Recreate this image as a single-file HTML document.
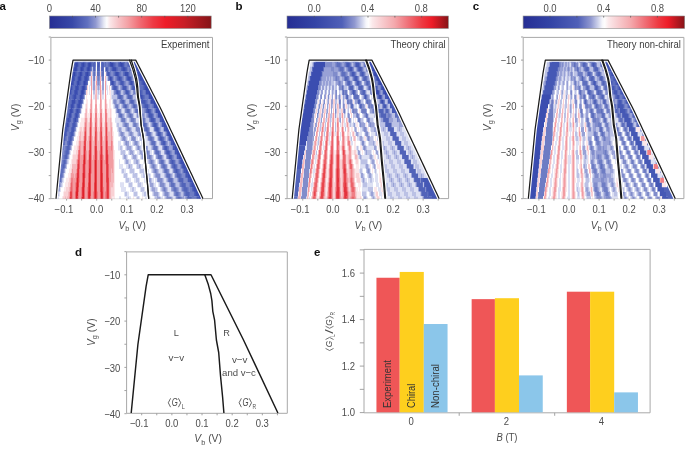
<!DOCTYPE html><html><head><meta charset="utf-8"><style>html,body{margin:0;padding:0;background:#fff;overflow:hidden}svg{display:block;will-change:transform}</style></head><body><svg width="685" height="449" viewBox="0 0 685 449" style="font-family:&quot;Liberation Sans&quot;, sans-serif"><defs><filter id="bl" x="-5%" y="-5%" width="110%" height="110%"><feGaussianBlur stdDeviation="0.7"/></filter><linearGradient id="cbA"><stop offset="0.000" stop-color="#262e94"/><stop offset="0.141" stop-color="#3848a8"/><stop offset="0.236" stop-color="#6070c0"/><stop offset="0.286" stop-color="#9098d0"/><stop offset="0.318" stop-color="#c4c8e6"/><stop offset="0.337" stop-color="#e6e8f4"/><stop offset="0.355" stop-color="#fdfdfe"/><stop offset="0.375" stop-color="#fbe6e8"/><stop offset="0.425" stop-color="#f6c4c8"/><stop offset="0.486" stop-color="#f4a0a4"/><stop offset="0.564" stop-color="#f06870"/><stop offset="0.641" stop-color="#ee3a44"/><stop offset="0.719" stop-color="#ee1c28"/><stop offset="0.835" stop-color="#c81e26"/><stop offset="1.000" stop-color="#861418"/></linearGradient><linearGradient id="cbB"><stop offset="0.000" stop-color="#262e94"/><stop offset="0.173" stop-color="#3444a6"/><stop offset="0.341" stop-color="#5060b8"/><stop offset="0.419" stop-color="#9098d0"/><stop offset="0.465" stop-color="#d0d4ec"/><stop offset="0.490" stop-color="#f6f6fb"/><stop offset="0.505" stop-color="#fefdfd"/><stop offset="0.530" stop-color="#fbe8ea"/><stop offset="0.580" stop-color="#f8d0d3"/><stop offset="0.667" stop-color="#f4a8ac"/><stop offset="0.750" stop-color="#f07078"/><stop offset="0.835" stop-color="#ee3a42"/><stop offset="0.897" stop-color="#ee1c28"/><stop offset="1.000" stop-color="#861418"/></linearGradient></defs><text x="-0.6" y="9.8" font-size="11.5" font-weight="bold" fill="#111">a</text><rect x="49.4" y="16.0" width="161.8" height="12.5" fill="url(#cbA)" stroke="#8c8c8c" stroke-width="0.6"/><line x1="72.5" y1="15.9" x2="72.5" y2="17.6" stroke="#555" stroke-width="0.7"/><line x1="95.5" y1="15.9" x2="95.5" y2="17.6" stroke="#555" stroke-width="0.7"/><line x1="118.6" y1="15.9" x2="118.6" y2="17.6" stroke="#555" stroke-width="0.7"/><line x1="141.7" y1="15.9" x2="141.7" y2="17.6" stroke="#555" stroke-width="0.7"/><line x1="164.8" y1="15.9" x2="164.8" y2="17.6" stroke="#555" stroke-width="0.7"/><line x1="187.8" y1="15.9" x2="187.8" y2="17.6" stroke="#555" stroke-width="0.7"/><text x="49.4" y="11.6" font-size="10.4" text-anchor="middle" fill="#4d4d4d" textLength="5.3" lengthAdjust="spacingAndGlyphs">0</text><text x="95.6" y="11.6" font-size="10.4" text-anchor="middle" fill="#4d4d4d" textLength="10.6" lengthAdjust="spacingAndGlyphs">40</text><text x="141.7" y="11.6" font-size="10.4" text-anchor="middle" fill="#4d4d4d" textLength="10.6" lengthAdjust="spacingAndGlyphs">80</text><text x="188.0" y="11.6" font-size="10.4" text-anchor="middle" fill="#4d4d4d" textLength="15.8" lengthAdjust="spacingAndGlyphs">120</text><path d="M50.9 37.4H212.5V198.6H50.9Z" fill="none" stroke="#a8a8a8" stroke-width="1"/><line x1="48.7" y1="37.00" x2="50.9" y2="37.00" stroke="#999" stroke-width="0.9"/><line x1="48.7" y1="60.10" x2="50.9" y2="60.10" stroke="#999" stroke-width="0.9"/><line x1="48.7" y1="83.20" x2="50.9" y2="83.20" stroke="#999" stroke-width="0.9"/><line x1="48.7" y1="106.30" x2="50.9" y2="106.30" stroke="#999" stroke-width="0.9"/><line x1="48.7" y1="129.40" x2="50.9" y2="129.40" stroke="#999" stroke-width="0.9"/><line x1="48.7" y1="152.50" x2="50.9" y2="152.50" stroke="#999" stroke-width="0.9"/><line x1="48.7" y1="175.60" x2="50.9" y2="175.60" stroke="#999" stroke-width="0.9"/><line x1="48.7" y1="198.70" x2="50.9" y2="198.70" stroke="#999" stroke-width="0.9"/><text x="44.2" y="63.5" font-size="10.4" text-anchor="end" fill="#4d4d4d" textLength="16.1" lengthAdjust="spacingAndGlyphs">&#8722;10</text><text x="44.2" y="109.7" font-size="10.4" text-anchor="end" fill="#4d4d4d" textLength="16.1" lengthAdjust="spacingAndGlyphs">&#8722;20</text><text x="44.2" y="155.9" font-size="10.4" text-anchor="end" fill="#4d4d4d" textLength="16.1" lengthAdjust="spacingAndGlyphs">&#8722;30</text><text x="44.2" y="202.1" font-size="10.4" text-anchor="end" fill="#4d4d4d" textLength="16.1" lengthAdjust="spacingAndGlyphs">&#8722;40</text><line x1="66.60" y1="198.6" x2="66.60" y2="200.6" stroke="#999" stroke-width="0.9"/><line x1="81.65" y1="198.6" x2="81.65" y2="200.6" stroke="#999" stroke-width="0.9"/><line x1="96.70" y1="198.6" x2="96.70" y2="200.6" stroke="#999" stroke-width="0.9"/><line x1="111.75" y1="198.6" x2="111.75" y2="200.6" stroke="#999" stroke-width="0.9"/><line x1="126.80" y1="198.6" x2="126.80" y2="200.6" stroke="#999" stroke-width="0.9"/><line x1="141.85" y1="198.6" x2="141.85" y2="200.6" stroke="#999" stroke-width="0.9"/><line x1="156.90" y1="198.6" x2="156.90" y2="200.6" stroke="#999" stroke-width="0.9"/><line x1="171.95" y1="198.6" x2="171.95" y2="200.6" stroke="#999" stroke-width="0.9"/><line x1="187.00" y1="198.6" x2="187.00" y2="200.6" stroke="#999" stroke-width="0.9"/><line x1="202.05" y1="198.6" x2="202.05" y2="200.6" stroke="#999" stroke-width="0.9"/><text x="64.0" y="213.2" font-size="10.1" text-anchor="middle" fill="#4d4d4d" textLength="18.8" lengthAdjust="spacingAndGlyphs">&#8722;0.1</text><text x="96.7" y="213.2" font-size="10.1" text-anchor="middle" fill="#4d4d4d" textLength="13.2" lengthAdjust="spacingAndGlyphs">0.0</text><text x="126.8" y="213.2" font-size="10.1" text-anchor="middle" fill="#4d4d4d" textLength="13.2" lengthAdjust="spacingAndGlyphs">0.1</text><text x="156.9" y="213.2" font-size="10.1" text-anchor="middle" fill="#4d4d4d" textLength="13.2" lengthAdjust="spacingAndGlyphs">0.2</text><text x="187.0" y="213.2" font-size="10.1" text-anchor="middle" fill="#4d4d4d" textLength="13.2" lengthAdjust="spacingAndGlyphs">0.3</text><text x="118.4" y="228.6" font-size="10.3" fill="#4d4d4d"><tspan font-style="italic">V</tspan><tspan font-size="7.4" dy="2.4">b</tspan><tspan dy="-2.4"> (V)</tspan></text><text transform="translate(18.6 131.2) rotate(-90)" font-size="10.3" fill="#4d4d4d"><tspan font-style="italic">V</tspan><tspan font-size="7.4" dy="2.4">g</tspan><tspan dy="-2.4"> (V)</tspan></text><text x="209.5" y="48.3" font-size="10.0" text-anchor="end" fill="#3d3d3d" textLength="48.6" lengthAdjust="spacingAndGlyphs">Experiment</text><clipPath id="cL0"><path d="M73.04 60.10 L72.20 64.72 L71.36 69.34 L70.61 73.96 L69.96 78.58 L69.30 83.20 L68.65 87.82 L68.00 92.44 L67.35 97.06 L66.69 101.68 L66.04 106.30 L65.39 110.92 L64.74 115.54 L64.08 120.16 L63.43 124.78 L62.78 129.40 L62.32 134.02 L61.87 138.64 L61.42 143.26 L60.96 147.88 L60.51 152.50 L60.06 157.12 L59.61 161.74 L59.16 166.36 L58.71 170.98 L58.25 175.60 L57.80 180.22 L57.35 184.84 L56.90 189.46 L56.45 194.08 L56.01 198.70 L148.71 198.70 L148.32 194.08 L147.94 189.46 L147.56 184.84 L147.15 180.22 L146.69 175.60 L146.24 170.98 L145.78 166.36 L145.33 161.74 L144.94 157.12 L144.58 152.50 L144.22 147.88 L143.86 143.26 L143.49 138.64 L142.75 134.02 L141.91 129.40 L141.09 124.78 L140.67 120.16 L140.25 115.54 L139.82 110.92 L139.40 106.30 L138.58 101.68 L137.66 97.06 L137.20 92.44 L136.81 87.82 L136.19 83.20 L135.39 78.58 L134.13 73.96 L132.83 69.34 L131.19 64.72 L129.54 60.10Z"/></clipPath><clipPath id="cR0"><path d="M131.24 60.10 L132.76 64.72 L134.29 69.34 L135.47 73.96 L136.60 78.58 L137.29 83.20 L137.78 87.82 L138.05 92.44 L138.38 97.06 L139.18 101.68 L139.89 106.30 L140.19 110.92 L140.49 115.54 L140.79 120.16 L141.09 124.78 L141.91 129.40 L142.75 134.02 L143.49 138.64 L143.86 143.26 L144.22 147.88 L144.58 152.50 L144.94 157.12 L145.33 161.74 L145.78 166.36 L146.24 170.98 L146.69 175.60 L147.15 180.22 L147.56 184.84 L147.94 189.46 L148.32 194.08 L148.71 198.70 L203.01 198.70 L200.84 194.08 L198.67 189.46 L196.50 184.84 L194.34 180.22 L192.17 175.60 L190.00 170.98 L187.83 166.36 L185.66 161.74 L183.49 157.12 L181.33 152.50 L179.16 147.88 L176.99 143.26 L174.82 138.64 L172.65 134.02 L170.48 129.40 L168.32 124.78 L166.16 120.16 L164.00 115.54 L161.85 110.92 L159.51 106.30 L157.14 101.68 L154.76 97.06 L152.38 92.44 L150.00 87.82 L147.63 83.20 L145.25 78.58 L142.87 73.96 L140.49 69.34 L138.12 64.72 L135.74 60.10Z"/></clipPath><g clip-path="url(#cL0)"><g filter="url(#bl)" stroke-width="5.0" fill="none"><path stroke="#3547ab" d="M71 60.1h1m5 0h1m6 0h1m5 0h1m17 0h2m8 0h2m7 0h2M70 64.7h1m5 0h1m6 0h1m5 0h1m21 0h2m8 0h1m8 0h2M75 69.3h1m5 0h1m6 0h1M74 74.0h1m5 0h1m6 0h1M79 78.6h1M71 83.2h1m6 0h1m5 0h1M70 87.8h1m12 0h1M69 92.4h1m12 0h1"/><path stroke="#3a4db0" d="M72 60.1h1m5 0h1m4 0h1m1 0h1m5 0h1m15 0h1m2 0h1m6 0h1m2 0h1m5 0h1m2 0h1M75 64.7h1m1 0h1m4 0h1m5 0h1m1 0h1m19 0h1m9 0h1m1 0h1m6 0h1M69 69.3h1m4 0h1m1 0h1m5 0h1m4 0h1m1 0h1m23 0h3m7 0h2m7 0h3M68 74.0h1m4 0h1m7 0h1m4 0h1m29 0h2m7 0h3m7 0h2M67 78.6h1m4 0h2m4 0h1m1 0h1m4 0h2m23 0h1m8 0h1m8 0h2M72 83.2h1m4 0h1m7 0h1m26 0h1m18 0h1M69 87.8h1m1 0h1m4 0h2m4 0h1m1 0h1M68 92.4h1m1 0h1m4 0h2m4 0h1m1 0h1M67 97.1h2m5 0h2m4 0h2M66 101.7h2m4 0h3m4 0h2M65 106.3h2m4 0h2m5 0h2M64 110.9h1m5 0h2m5 0h1M63 115.5h1m5 0h2m5 0h1M62 120.2h1m5 0h1m6 0h1M67 124.8h1"/><path stroke="#5163b9" d="M73 60.1h1m1 0h1m6 0h1m3 0h1m1 0h1m5 0h1m2 0h3m1 0h2m3 0h1m5 0h1m2 0h1m5 0h1m3 0h1m5 0h1M72 64.7h1m1 0h1m3 0h1m6 0h1m1 0h1m3 0h1m1 0h2m2 0h1m1 0h1m2 0h2m5 0h1m4 0h1m3 0h1m9 0h1m4 0h1M73 69.3h1m3 0h1m8 0h1m3 0h1m3 0h1m2 0h2m3 0h1m4 0h1m8 0h1m4 0h1m4 0h1M69 74.0h1m6 0h1m1 0h1m3 0h1m6 0h1m17 0h1m1 0h1m14 0h1m3 0h1M68 78.6h1m8 0h1m3 0h1m27 0h1m7 0h1m3 0h1m14 0h1M67 83.2h1m8 0h1m3 0h1m39 0h1m2 0h1M68 87.8h1m3 0h1m8 0h1m3 0h1m27 0h1m2 0h1m15 0h1m2 0h1M67 92.4h1m3 0h1m8 0h1m3 0h1m31 0h1m1 0h1m9 0h1m6 0h1m1 0h1M66 97.1h1m5 0h1m3 0h1m2 0h1m39 0h2m7 0h3m7 0h2M71 101.7h1m3 0h1m46 0h2m7 0h2M67 106.3h1m2 0h1m9 0h1m44 0h1m8 0h1M66 110.9h1m2 0h1m9 0h1M68 115.5h1m2 0h1M63 120.2h1m6 0h1m2 0h1m2 0h1M62 124.8h1m9 0h1m2 0h1M67 129.4h1m3 0h1M66 134.0h1m3 0h1M62 138.6h1m6 0h1m1 0h1M61 143.3h1m1 0h1m4 0h1m1 0h1M60 147.9h1m1 0h1m4 0h2M59 152.5h2m5 0h2M58 157.1h2m5 0h2M57 161.7h2m5 0h1M63 166.4h1"/><path stroke="#5d6ebe" d="M74 60.1h1m5 0h2m5 0h1m5 0h1m1 0h1m7 0h3m7 0h2m7 0h3M73 64.7h1m5 0h2m5 0h1m5 0h1m8 0h1m3 0h1m2 0h1m6 0h1m8 0h1m2 0h1M71 69.3h2m5 0h2m4 0h2m7 0h1m5 0h1m1 0h1m1 0h1m7 0h1m5 0h1m12 0h1M70 74.0h2m5 0h1m5 0h2m9 0h1m2 0h2m3 0h2m10 0h1m4 0h1m3 0h1m9 0h1M69 78.6h2m4 0h2m5 0h2m4 0h1m23 0h1m13 0h1m4 0h1M68 83.2h2m4 0h2m5 0h2m4 0h1m26 0h1m14 0h1m3 0h1M66 87.8h2m5 0h2m4 0h2m41 0h1m3 0h1M65 92.4h2m5 0h2m4 0h2m39 0h1m5 0h1m12 0h1M65 97.1h1m4 0h2m5 0h2m4 0h1m34 0h1m2 0h1m9 0h1m5 0h1M64 101.7h1m4 0h2m5 0h2m4 0h1m38 0h1m8 0h1m2 0h1m6 0h1M68 106.3h2m4 0h1m1 0h1m47 0h1m1 0h1m6 0h1m1 0h1M68 110.9h1m4 0h1m1 0h1m42 0h1m8 0h2m7 0h2M65 115.5h1m1 0h1m6 0h1m3 0h1m41 0h2m8 0h1m8 0h2M64 120.2h1m1 0h1m10 0h1M65 124.8h1m3 0h1M61 129.4h1m2 0h1m3 0h1m5 0h1M60 134.0h1m2 0h1m5 0h1m3 0h1M65 138.6h1m2 0h1M64 143.3h1m2 0h1M66 147.9h1m2 0h1M61 152.5h1m3 0h1m2 0h1M60 157.1h1m3 0h1M63 161.7h1m1 0h1M57 166.4h1m4 0h1m1 0h1M56 171.0h1m4 0h2M60 175.6h2M59 180.2h2M58 184.8h1M57 189.5h1"/><path stroke="#4558b5" d="M76 60.1h1m2 0h1m9 0h1m2 0h1m18 0h1m4 0h1m13 0h1M71 64.7h1m9 0h1m2 0h1m13 0h1m14 0h1m5 0h1m3 0h1m8 0h1M70 69.3h1m9 0h1m2 0h1m22 0h1m5 0h1m9 0h1m2 0h1m5 0h1M72 74.0h1m2 0h1m3 0h1m5 0h1m2 0h1m19 0h1m6 0h1m2 0h1m15 0h1M71 78.6h1m2 0h1m9 0h1m2 0h1m23 0h1m6 0h1m1 0h1m6 0h1m2 0h1m6 0h1M70 83.2h1m2 0h1m5 0h1m3 0h1m2 0h1m24 0h1m1 0h1m7 0h2m7 0h1m1 0h1M75 87.8h1m2 0h1m35 0h2m7 0h3m7 0h2M74 92.4h1m2 0h1m39 0h1m8 0h2m8 0h1M69 97.1h1m3 0h1m8 0h1M65 101.7h1m2 0h1m9 0h1m2 0h1M64 106.3h1m8 0h1m3 0h1M63 110.9h1m1 0h1m6 0h1m3 0h1m1 0h1M62 115.5h1m1 0h1m10 0h1m1 0h1M67 120.2h1m1 0h1m4 0h1M61 124.8h1m4 0h1m1 0h1m4 0h2M60 129.4h1m4 0h2m5 0h2M64 134.0h2m5 0h2M63 138.6h2m5 0h1M62 143.3h1m6 0h1M61 147.9h1"/><path stroke="#ffffff" d="M96 60.1h1M96 64.7h1m3 0h1M96 69.3h1m7 0h1M104 74.0h1M104 78.6h1M88 83.2h2m11 0h1m2 0h1m2 0h3M88 87.8h1m1 0h1m13 0h1m3 0h1m1 0h1M88 92.4h1m1 0h1m1 0h1m11 0h1m1 0h1m1 0h1M85 97.1h1m1 0h3m2 0h1m6 0h1m4 0h1m2 0h3M84 101.7h2m2 0h2m3 0h2m2 0h3m2 0h2m3 0h2m2 0h1M83 106.3h2m3 0h2m3 0h2m2 0h2m3 0h2m4 0h1m2 0h2M82 110.9h3m3 0h1m4 0h1m4 0h1m4 0h1m8 0h3M80 115.5h4m28 0h4M79 120.2h2m31 0h3M78 124.8h2m33 0h3M77 129.4h2m34 0h4M76 134.0h2m36 0h4M74 138.6h3m37 0h6m8 0h1m9 0h1M73 143.3h3m38 0h4m3 0h2m8 0h1m8 0h1M72 147.9h2m40 0h4m5 0h2m8 0h2m7 0h2M71 152.5h2m42 0h5m6 0h2m7 0h2m8 0h2M70 157.1h2m43 0h7m6 0h3m7 0h2M69 161.7h2m44 0h4m1 0h4m7 0h2m7 0h3M67 166.4h3m45 0h4m4 0h3m7 0h3m7 0h2M66 171.0h3m46 0h6m5 0h3m6 0h4m6 0h3M65 175.6h3m47 0h8m5 0h4m6 0h3m6 0h2M64 180.2h2m49 0h10m6 0h3m6 0h4M63 184.8h2m50 0h5m4 0h4m5 0h4m6 0h4M61 189.5h3m51 0h6m5 0h4m6 0h4m5 0h4M60 194.1h3m52 0h9m5 0h4m5 0h4m6 0h3M59 198.7h3m53 0h4m2 0h5m5 0h2m1 0h2m4 0h2m1 0h2m5 0h1"/><path stroke="#fce8ea" d="M100 60.1h1M100 69.3h1M96 74.0h1m8 0h1M95 83.2h1M101 87.8h1M87 92.4h1m21 0h2M86 97.1h1m3 0h1m15 0h1m3 0h1M86 101.7h2m4 0h1m11 0h1m4 0h2M85 106.3h1m1 0h1m4 0h1m6 0h1m4 0h1m2 0h1m1 0h2M87 110.9h1m1 0h1m2 0h1m1 0h1m2 0h1m1 0h1m2 0h1m1 0h1m2 0h3m1 0h1M84 115.5h1m2 0h3m2 0h3m2 0h3m2 0h3m3 0h2m1 0h1M81 120.2h3m4 0h1m3 0h2m4 0h1m4 0h2M80 124.8h4m9 0h1m4 0h1m4 0h1m8 0h1M79 129.4h1m2 0h1M78 134.0h1m34 0h1M77 138.6h2m34 0h1M76 143.3h2m35 0h1M74 147.9h3M73 152.5h3m38 0h1M72 157.1h1m41 0h1M71 161.7h1m42 0h1M70 166.4h2m42 0h1M69 171.0h2m43 0h1M68 175.6h2m44 0h1M66 180.2h3m45 0h1M65 184.8h3m46 0h1M64 189.5h2m48 0h1M63 194.1h1m50 0h1M62 198.7h1m49 0h3m18 0h1m8 0h1"/><path stroke="#6d7cc4" d="M95 64.7h1m8 0h1m1 0h2m8 0h2m7 0h2M91 69.3h1m16 0h1m1 0h1m7 0h3m6 0h1m1 0h1M93 74.0h1m5 0h1m10 0h1m2 0h1m6 0h1m8 0h1m2 0h1M94 78.6h1m3 0h1m3 0h2m4 0h1m7 0h1m5 0h1m12 0h1M110 83.2h1m4 0h1m3 0h1m4 0h1m9 0h1m3 0h1M86 87.8h1m25 0h1m4 0h1m13 0h1m4 0h1M115 92.4h1m13 0h1m4 0h1M122 97.1h1m4 0h1M120 101.7h1m3 0h1m14 0h1M75 106.3h1m5 0h1m34 0h2m5 0h1m12 0h1M67 110.9h1m6 0h1m42 0h1m1 0h1m6 0h1m2 0h1m5 0h1m2 0h1M66 115.5h1m5 0h2m45 0h1m9 0h1m1 0h1m6 0h1M65 120.2h1m5 0h2m49 0h3m6 0h3m7 0h2M63 124.8h2m5 0h2m4 0h1m48 0h2m7 0h2M62 129.4h2m5 0h2m57 0h1M61 134.0h2m4 0h2M59 138.6h1m1 0h1m4 0h1m5 0h1M60 143.3h1m10 0h1M59 147.9h1m3 0h1m1 0h1M58 152.5h1m3 0h1m1 0h1M63 157.1h1m3 0h1M59 161.7h1m2 0h1M58 166.4h1m2 0h1M60 171.0h1m2 0h1M59 175.6h1m2 0h1M58 180.2h1M57 184.8h1m1 0h1M56 189.5h1m1 0h1M55 194.1h2M54 198.7h2"/><path stroke="#bbc1e5" d="M92 69.3h1M92 74.0h1M89 78.6h1m11 0h1m5 0h1M97 87.8h1m1 0h1m11 0h1m7 0h1m9 0h1m8 0h1M93 92.4h2m3 0h1m3 0h2m9 0h1m7 0h2m8 0h2M112 97.1h5m7 0h2m7 0h3M83 101.7h1m33 0h2m7 0h3m7 0h2M114 106.3h1m4 0h1m1 0h1m7 0h2m7 0h1m1 0h1M121 110.9h1m2 0h1m6 0h1m1 0h1m6 0h1M124 115.5h1m1 0h1m6 0h1m2 0h1M78 120.2h1m41 0h1m5 0h1m2 0h1m9 0h1M77 124.8h1m39 0h2m3 0h1m9 0h1m5 0h1m2 0h1M118 129.4h1m2 0h1m3 0h1m5 0h1m3 0h1m4 0h1M119 134.0h1m4 0h1m3 0h1m4 0h1m3 0h1m5 0h1M121 138.6h1m4 0h1m13 0h1m4 0h1M72 143.3h1m51 0h1m8 0h1m4 0h1m4 0h1M71 147.9h1m48 0h2m4 0h1m4 0h1m4 0h1m3 0h1m4 0h1M121 152.5h4m4 0h1m3 0h1m5 0h1m3 0h1M123 157.1h1m2 0h1m5 0h1m3 0h1m4 0h1m3 0h1M67 161.7h1m57 0h1m2 0h1m5 0h2m2 0h1m5 0h1m2 0h1M66 166.4h1m61 0h1m1 0h2m5 0h2m1 0h1m6 0h1M122 171.0h2m6 0h4m6 0h4M124 175.6h3m6 0h4m6 0h3M62 180.2h1m63 0h3m7 0h3m6 0h3M61 184.8h1m67 0h3m6 0h3m7 0h2M132 189.5h2m7 0h3M58 194.1h1m66 0h2m7 0h3m7 0h2M57 198.7h1m70 0h1m8 0h2m8 0h1"/><path stroke="#808ccb" d="M95 69.3h1m9 0h1m3 0h1m18 0h1M90 74.0h1m10 0h1m4 0h1m4 0h2m8 0h2m7 0h2M93 78.6h1m3 0h1m1 0h1m13 0h1m1 0h1m7 0h1m1 0h1m6 0h1m1 0h1M98 83.2h1m19 0h1m6 0h1m2 0h1m8 0h1M121 87.8h1m5 0h1M85 92.4h1m28 0h1m5 0h1m3 0h1m8 0h1m5 0h1M117 97.1h1m14 0h1m3 0h1M114 101.7h2m13 0h1m4 0h1M115 106.3h1m11 0h1m4 0h1M80 110.9h1m39 0h1m4 0h1m13 0h1M122 115.5h1m5 0h1m3 0h1m4 0h1m3 0h1M121 120.2h1m12 0h1m5 0h1M124 124.8h1m2 0h1m5 0h1m2 0h1m6 0h1M75 129.4h1m51 0h1m1 0h1m6 0h4M121 134.0h2m7 0h2m7 0h3M60 138.6h1m6 0h1m55 0h2m7 0h3m7 0h2M59 143.3h1m5 0h2m59 0h1m8 0h2m8 0h1M58 147.9h1m5 0h1m5 0h1m67 0h1M63 152.5h1M61 157.1h2M60 161.7h2m4 0h1M59 166.4h2m4 0h1M57 171.0h1m1 0h1M56 175.6h1m1 0h1M55 180.2h1m1 0h1m3 0h1M56 184.8h1M55 189.5h1M54 194.1h1m2 0h1M56 198.7h1"/><path stroke="#f9d1d4" d="M91 74.0h1m8 0h1M87 87.8h1m7 0h1m13 0h1M86 92.4h1m8 0h1m5 0h1M101 97.1h1M90 101.7h1m15 0h1M86 106.3h1M85 110.9h1m24 0h1M107 115.5h1m2 0h1M84 120.2h1m2 0h1m1 0h1m4 0h1m2 0h1m1 0h1m2 0h1m4 0h3m1 0h1M87 124.8h2m3 0h1m1 0h1m2 0h1m1 0h1m2 0h1m1 0h1m3 0h2M80 129.4h2m1 0h1m3 0h2m3 0h2m3 0h3m3 0h2m3 0h2m2 0h1M79 134.0h1m1 0h3m3 0h2m3 0h2m4 0h1m4 0h2m7 0h1M81 138.6h2m4 0h1m5 0h1m4 0h1m4 0h1M78 143.3h1M77 147.9h1m35 0h1M76 152.5h2m35 0h1M73 157.1h4m36 0h1M72 161.7h4M71 171.0h1M70 175.6h1M69 180.2h1M68 184.8h2m43 0h1M66 189.5h3m42 0h3M64 194.1h4m43 0h3M63 198.7h2m1 0h1m44 0h1"/><path stroke="#98a1d6" d="M95 74.0h1M114 78.6h1m9 0h1m8 0h1M93 83.2h2m2 0h1m1 0h1m2 0h2m12 0h2m8 0h2m7 0h2M93 87.8h2m3 0h1m3 0h2m14 0h1m1 0h1m7 0h1m1 0h1m6 0h1M123 92.4h1m6 0h1M84 97.1h1m38 0h1m2 0h1M113 101.7h1m2 0h1m2 0h1m5 0h1m9 0h1m2 0h1M118 106.3h1m3 0h1m5 0h1m2 0h1m5 0h1m3 0h1M116 110.9h1m13 0h1m3 0h1M79 115.5h1m38 0h1m4 0h1m3 0h1m14 0h1M125 120.2h1m4 0h1m4 0h1M123 124.8h1m4 0h1m8 0h1m4 0h1M119 129.4h2m5 0h1m3 0h1M74 134.0h1m45 0h1m2 0h1m5 0h1m2 0h1m5 0h1m3 0h1M73 138.6h1m48 0h1m2 0h1m5 0h1m3 0h1m5 0h1m2 0h1M125 143.3h1m1 0h2m5 0h1m2 0h1m6 0h1M127 147.9h4m6 0h1m1 0h1m6 0h1M69 152.5h1m60 0h3m7 0h3M68 157.1h1m55 0h2m7 0h3m6 0h3M126 161.7h2m8 0h2m7 0h2M129 166.4h1m9 0h1M58 171.0h1m5 0h1M57 175.6h1m5 0h1M56 180.2h1M55 184.8h1m4 0h1M54 189.5h1m4 0h1"/><path stroke="#dde0f3" d="M90 78.6h1m1 0h1m2 0h1m10 0h1M90 83.2h1m1 0h1m13 0h1M89 87.8h1m2 0h1m13 0h2M89 92.4h1m7 0h1m1 0h1m7 0h1m3 0h2M93 97.1h2m2 0h2m3 0h2m7 0h1M112 101.7h1M82 106.3h1m30 0h1m6 0h1m18 0h1M81 110.9h1m33 0h1m6 0h2m8 0h1m8 0h1M116 115.5h2m7 0h1m8 0h2M115 120.2h5m7 0h2m7 0h3M116 124.8h1m2 0h3m7 0h3m7 0h2M76 129.4h1m40 0h1m4 0h3m7 0h3m6 0h3M75 134.0h1m42 0h1m6 0h3m6 0h3m7 0h1M120 138.6h1m6 0h1m1 0h2m5 0h2m1 0h1M118 143.3h3m2 0h1m5 0h2m1 0h1m6 0h1m1 0h2M118 147.9h2m2 0h1m2 0h1m6 0h1m2 0h1m5 0h1m2 0h1M70 152.5h1m49 0h1m4 0h1m2 0h1m5 0h1m2 0h2m5 0h1M69 157.1h1m52 0h1m4 0h1m3 0h1m5 0h1m2 0h1m5 0h1M68 161.7h1m50 0h1m4 0h1m4 0h2m2 0h1m5 0h1m3 0h1M119 166.4h4m3 0h2m4 0h1m3 0h1m4 0h2m2 0h2M65 171.0h1m55 0h1m2 0h2m3 0h1m4 0h1m4 0h1m4 0h1m3 0h1M64 175.6h1m58 0h1m3 0h1m4 0h1m4 0h1m3 0h2m3 0h1M63 180.2h1m61 0h1m3 0h2m3 0h2m3 0h1m4 0h1m3 0h2M62 184.8h1m57 0h4m4 0h1m3 0h1m4 0h1m3 0h2m4 0h1M60 189.5h1m60 0h5m4 0h2m2 0h2m4 0h1m3 0h1m4 0h1M59 194.1h1m64 0h1m2 0h2m4 0h1m3 0h1m4 0h2m2 0h2M58 198.7h1m60 0h2m5 0h2m1 0h2m5 0h1m2 0h1m5 0h2m1 0h2"/><path stroke="#f29ca1" d="M91 78.6h1M91 83.2h1m4 0h1m3 0h1m4 0h1M91 87.8h1m8 0h1m4 0h1M91 92.4h1m8 0h1m4 0h1M91 97.1h1m8 0h1m4 0h1M91 101.7h1m8 0h1m4 0h1M91 106.3h1m3 0h2m3 0h1m4 0h1M90 110.9h2m3 0h2m3 0h2m4 0h1M85 120.2h2M86 124.8h1M84 129.4h1m1 0h1m2 0h1m17 0h1m3 0h1M86 134.0h1m2 0h1m17 0h1m3 0h1M86 138.6h1m7 0h1m7 0h1m8 0h1M79 143.3h2m2 0h1m10 0h1m7 0h1m9 0h1M80 147.9h1m27 0h3m1 0h1M80 152.5h1m5 0h1m1 0h1m8 0h1m1 0h1m8 0h5M80 157.1h3m3 0h1m1 0h1m4 0h1m3 0h1m1 0h1m3 0h1m5 0h4M80 161.7h3m3 0h2m4 0h2m3 0h3m3 0h2m4 0h4M80 166.4h2m4 0h2m4 0h2m3 0h3m3 0h3m3 0h4M72 171.0h1m3 0h1m3 0h2m4 0h2m4 0h2m3 0h3m3 0h3m3 0h2m1 0h1M71 175.6h3m1 0h1m4 0h2m4 0h2m3 0h3m3 0h3m3 0h3m3 0h2M73 180.2h3m4 0h2m3 0h3m3 0h3m3 0h3m3 0h3m3 0h2M70 184.8h1m2 0h2m4 0h3m3 0h3m3 0h3m3 0h3m3 0h3m3 0h1M73 189.5h2m4 0h2m4 0h2m4 0h3m3 0h3m4 0h2m3 0h1M69 194.1h1m3 0h2m4 0h2m4 0h2m4 0h2m5 0h2m4 0h1m4 0h1M73 198.7h2m4 0h2m4 0h2m4 0h2m5 0h2m4 0h1m4 0h1"/><path stroke="#f5b7bc" d="M96 78.6h1m3 0h1m4 0h1M96 87.8h1M96 92.4h1M95 97.1h2M95 101.7h2m4 0h1M90 106.3h1m10 0h1m4 0h1M86 110.9h1M85 115.5h2M110 120.2h1M84 124.8h1m4 0h1m17 0h1m2 0h2M94 129.4h1m7 0h1m7 0h1M80 134.0h1m13 0h1m2 0h1m1 0h1m2 0h1m5 0h3M79 138.6h2m2 0h1m4 0h1m3 0h1m4 0h1m1 0h1m4 0h1m3 0h3m1 0h1M81 143.3h2m3 0h3m3 0h2m3 0h3m3 0h2m3 0h3M78 147.9h1m2 0h2m3 0h3m3 0h2m3 0h3m3 0h2M81 152.5h2m4 0h1m4 0h2m4 0h1m4 0h2M77 157.1h1m9 0h1m4 0h1m5 0h1m5 0h1M76 161.7h1m36 0h1M72 166.4h5m36 0h1M73 171.0h3m35 0h1m1 0h1M74 175.6h1m36 0h3M70 180.2h1m40 0h3M110 184.8h3M69 189.5h1m40 0h1M68 194.1h1m41 0h1M65 198.7h1m1 0h2m41 0h1"/><path stroke="#f07f86" d="M105 110.9h1M90 115.5h2m3 0h2m3 0h2m3 0h2M91 120.2h1m3 0h2m3 0h2m3 0h2M85 124.8h1m5 0h1m4 0h1m3 0h1m4 0h1M91 129.4h1m13 0h1M84 134.0h1m6 0h1m13 0h1M89 138.6h1m1 0h1m13 0h1m1 0h1M91 143.3h1m13 0h1m5 0h1M79 147.9h1m3 0h1m7 0h1m2 0h1m7 0h1m2 0h1m5 0h1M78 152.5h1m4 0h1m7 0h1m2 0h1m7 0h1m2 0h1M91 157.1h1m2 0h1m10 0h1m2 0h1M77 161.7h1m10 0h1m2 0h1m13 0h1m2 0h1M82 166.4h1m2 0h1m2 0h1m2 0h1M79 171.0h1m2 0h1m2 0h1m2 0h1m2 0h1M76 175.6h1m2 0h1m5 0h1M71 180.2h2m6 0h1M72 184.8h1m2 0h1M70 189.5h1m1 0h1m2 0h1m5 0h1m5 0h1m15 0h1M72 194.1h1m5 0h1m2 0h1m5 0h1m5 0h1m3 0h1m5 0h1m1 0h1M69 198.7h1m2 0h1m5 0h1m8 0h1m5 0h1m3 0h1m5 0h1m1 0h1"/><path stroke="#ec6269" d="M90 120.2h1M90 124.8h1m4 0h1m5 0h1m4 0h1M85 129.4h1m9 0h2m3 0h2M96 134.0h1m3 0h1M84 138.6h1m11 0h1m3 0h1M89 143.3h1m6 0h1m3 0h1m6 0h1M89 147.9h1m10 0h1m6 0h1M79 152.5h1m5 0h1m14 0h1M78 157.1h2m3 0h1m1 0h1m16 0h1M79 161.7h1m5 0h1m8 0h1m7 0h1M77 166.4h1m1 0h1m14 0h1m7 0h1m5 0h1M94 171.0h1m7 0h1m5 0h1M82 175.6h1m5 0h1m5 0h1m13 0h1M76 180.2h1m5 0h1m5 0h1m5 0h1M71 184.8h1m34 0h1M71 189.5h1m6 0h1m5 0h1m21 0h1M75 194.1h1m8 0h1m15 0h1m5 0h1M75 198.7h1m5 0h1m2 0h1m5 0h1m9 0h1m5 0h1"/><path stroke="#e8444c" d="M90 129.4h1m15 0h1M85 134.0h1m4 0h1m4 0h1m5 0h1m4 0h1M85 138.6h1m4 0h1m4 0h1m5 0h1m4 0h1M84 143.3h2m9 0h1m5 0h1M85 147.9h1m10 0h1M89 152.5h1m6 0h1m10 0h1M96 157.1h1m3 0h1M78 161.7h1m4 0h1m12 0h1m3 0h1M96 166.4h1m3 0h1m5 0h1M77 171.0h1m18 0h1m3 0h1m5 0h1M90 175.6h1m5 0h1m3 0h1m1 0h1m3 0h1M78 180.2h1m5 0h1m5 0h1m5 0h1m3 0h1m1 0h1m3 0h1m1 0h1M76 184.8h1m1 0h1m3 0h1m1 0h1m3 0h1m1 0h1m3 0h1m1 0h1m3 0h1m1 0h1m5 0h1M88 189.5h1m1 0h1m3 0h1m1 0h1m3 0h1m1 0h1m5 0h1M70 194.1h2m18 0h1m3 0h1m1 0h1m11 0h1M71 198.7h1m22 0h1m1 0h1m11 0h1"/><path stroke="#e4333c" d="M90 143.3h1m15 0h1M84 147.9h1m5 0h1m4 0h1m5 0h1m4 0h1M84 152.5h1m5 0h1m4 0h1m5 0h1m4 0h1M89 157.1h2m4 0h1m5 0h1m4 0h2M89 161.7h2m15 0h2M78 166.4h1m4 0h2m4 0h2m16 0h1M78 171.0h1m4 0h2m5 0h1m16 0h1M77 175.6h2m5 0h1m22 0h1M107 180.2h1M107 184.8h1M76 189.5h1m5 0h1m24 0h1M82 194.1h1m5 0h1m13 0h1m4 0h1M70 198.7h1m6 0h1m10 0h1m13 0h1m4 0h1"/><path stroke="#df222c" d="M84 157.1h1M84 161.7h1m10 0h1m5 0h1M95 166.4h1m5 0h1M89 171.0h1m5 0h1m5 0h1M83 175.6h1m5 0h1m5 0h1m5 0h1M77 180.2h1m5 0h1m5 0h1m5 0h1m5 0h1M77 184.8h1m5 0h1m5 0h1m5 0h1m5 0h1M77 189.5h1m5 0h1m5 0h1m5 0h1m5 0h1M76 194.1h2m5 0h1m5 0h1m5 0h1m5 0h1M76 198.7h1m5 0h2m5 0h1m5 0h1m5 0h1"/></g></g><g clip-path="url(#cR0)"><g filter="url(#bl)" stroke-width="5.0" fill="none"><path stroke="#3a4db0" d="M129 60.1h9M131 64.7h10M135 69.3h8M138 74.0h7M140 78.6h8M143 83.2h1m1 0h5M136 87.8h1m8 0h1m2 0h5M138 92.4h2m6 0h3m1 0h5M141 97.1h1m7 0h2m1 0h5M151 101.7h3m1 0h5M154 106.3h2m1 0h5M148 110.9h1m7 0h8M158 115.5h9M162 120.2h5M164 124.8h5M166 129.4h4M168 134.0h4M170 138.6h5M173 143.3h4M175 147.9h4M177 152.5h4M179 157.1h4M181 161.7h4M183 166.4h4M186 171.0h3M188 175.6h3M190 180.2h3M192 184.8h3M194 189.5h3M196 194.1h4M199 198.7h3"/><path stroke="#4558b5" d="M130 64.7h1M132 69.3h3M133 74.0h1m2 0h2M134 78.6h1m4 0h1M135 83.2h2m5 0h1M135 87.8h1m1 0h2m5 0h1M137 92.4h1m2 0h1M140 97.1h1m1 0h1M142 101.7h3M145 106.3h3M147 110.9h1m1 0h1M149 115.5h3M151 120.2h3m6 0h2m5 0h2M154 124.8h2m6 0h2m5 0h2M156 129.4h2m6 0h2m4 0h3M158 134.0h2m7 0h1m4 0h3M160 138.6h2m7 0h1m5 0h2M163 143.3h2m6 0h2m4 0h2M165 147.9h2m6 0h2m4 0h3M167 152.5h2m6 0h2m4 0h3M169 157.1h2m6 0h2m4 0h3M172 161.7h1m7 0h1m4 0h3M174 166.4h1m7 0h1m4 0h3M176 171.0h1m7 0h2m3 0h3M186 175.6h2m3 0h4M188 180.2h2m3 0h4M191 184.8h1m3 0h4M193 189.5h1m3 0h4M195 194.1h1m4 0h3M197 198.7h2m3 0h4"/><path stroke="#5163b9" d="M134 74.0h2M135 78.6h4M137 83.2h1m3 0h1M139 87.8h1m3 0h1M136 92.4h1m4 0h1M139 97.1h1m3 0h1M141 101.7h1m3 0h1M144 106.3h1M138 110.9h1m7 0h1m3 0h1M139 115.5h2m11 0h1M142 120.2h1m11 0h1M144 124.8h1m8 0h1m2 0h1M146 129.4h1m8 0h1m2 0h1M160 134.0h1M162 138.6h1M162 143.3h1M164 147.9h1M166 152.5h1m2 0h1M171 157.1h1M171 161.7h1m1 0h1M173 166.4h1m1 0h1M175 171.0h1m1 0h1M177 175.6h3M179 180.2h4M182 184.8h3m5 0h1M184 189.5h3m5 0h1M186 194.1h3m5 0h1M188 198.7h3"/><path stroke="#5d6ebe" d="M138 83.2h3M140 87.8h3M142 92.4h1m2 0h1M138 97.1h1m5 0h1m3 0h1M146 101.7h1m3 0h1M137 106.3h1m5 0h1m4 0h1m4 0h1M139 110.9h1m15 0h1M138 115.5h1m2 0h1m6 0h1M140 120.2h2m1 0h1m6 0h1M143 124.8h1m1 0h1M145 129.4h1m1 0h1M147 134.0h3m7 0h1M150 138.6h2m7 0h1m3 0h1M152 143.3h3m6 0h1m3 0h1M154 147.9h3m10 0h1M156 152.5h3M158 157.1h3m7 0h1M161 161.7h2m7 0h1m3 0h1m4 0h1M163 166.4h2m7 0h1m3 0h1m4 0h1M165 171.0h2m7 0h1m3 0h1m4 0h1M167 175.6h3m10 0h1m4 0h1M169 180.2h3M171 184.8h3m7 0h1m3 0h1M174 189.5h2m7 0h1m3 0h1M176 194.1h2m7 0h1m3 0h1M178 198.7h2m7 0h1m3 0h1m4 0h1"/><path stroke="#3547ab" d="M144 83.2h1M146 87.8h2M149 92.4h1M151 97.1h1M154 101.7h1M156 106.3h1"/><path stroke="#6d7cc4" d="M143 92.4h2M136 97.1h2m7 0h3M139 101.7h2m6 0h1M138 106.3h1m3 0h1m6 0h1m2 0h1M140 110.9h1m4 0h1m5 0h1M142 115.5h1m10 0h1m3 0h1M144 120.2h1m10 0h1M142 124.8h1m3 0h1m5 0h1m4 0h1M144 129.4h1m3 0h1m5 0h1m4 0h1M150 134.0h1m10 0h1m4 0h1M141 138.6h1m7 0h1m2 0h1m15 0h1M141 143.3h3m7 0h1M144 147.9h2m7 0h1m9 0h1m4 0h1M146 152.5h2m7 0h1m9 0h1m4 0h1M149 157.1h1m11 0h1m5 0h1m4 0h1M151 161.7h1m8 0h1m2 0h1M153 166.4h1m8 0h1m2 0h1M155 171.0h1m8 0h1m2 0h1m11 0h1M166 175.6h1m9 0h1m4 0h1M168 180.2h1m3 0h1m5 0h1m4 0h1m3 0h1M174 184.8h1m5 0h1m8 0h1M164 189.5h1m8 0h1m2 0h1m5 0h1m5 0h1m1 0h2M175 194.1h1m2 0h1m5 0h1m5 0h4M177 198.7h1m2 0h1m11 0h4"/><path stroke="#808ccb" d="M137 101.7h2m9 0h2M139 106.3h3m8 0h2M141 110.9h1m2 0h1m7 0h1m1 0h1M143 115.5h1m3 0h1m8 0h1M139 120.2h1m9 0h1m9 0h1M141 124.8h1m19 0h1M140 134.0h1m5 0h1m9 0h1m5 0h1M142 138.6h1m5 0h1m4 0h1m4 0h1m5 0h1M144 143.3h1m10 0h1m10 0h1m3 0h1M143 147.9h1m2 0h1m10 0h1m14 0h1M145 152.5h1m2 0h1m10 0h1m11 0h1m2 0h1M147 157.1h2m1 0h1m6 0h1m15 0h1m2 0h1M150 161.7h1m1 0h1m6 0h1m9 0h1m5 0h1m2 0h1M152 166.4h1m1 0h1m6 0h1m4 0h1m4 0h1m5 0h1m2 0h1M154 171.0h1m1 0h1m11 0h1m4 0h1m6 0h1m1 0h1M156 175.6h4m10 0h1m4 0h1m6 0h3M158 180.2h4m22 0h3M160 184.8h4m6 0h1m15 0h3M163 189.5h1m1 0h1m6 0h1m4 0h1m11 0h1M165 194.1h3m6 0h1m4 0h1M167 198.7h4m5 0h1m4 0h1m4 0h1"/><path stroke="#98a1d6" d="M142 110.9h2m9 0h1M144 115.5h1m1 0h1m7 0h2M138 120.2h1m6 0h1m10 0h3M147 124.8h1m3 0h1m6 0h1m1 0h1M143 129.4h1m5 0h1m10 0h1m2 0h1M151 134.0h1m13 0h1M165 138.6h1m1 0h1M150 143.3h1m9 0h1m6 0h1m1 0h1M142 147.9h1m4 0h1m4 0h1m9 0h1m6 0h3M144 152.5h1m4 0h1m4 0h1m5 0h1m3 0h1m7 0h2M151 157.1h1m4 0h1m5 0h1m3 0h1m7 0h2M149 161.7h1m3 0h1m10 0h1m11 0h2M143 166.4h2m6 0h1m3 0h1m22 0h2M144 171.0h3m6 0h1m3 0h1m5 0h1m17 0h1M146 175.6h3m6 0h1m9 0h1m5 0h1M148 180.2h3m6 0h1m4 0h1m4 0h1m5 0h1m3 0h1M150 184.8h3m11 0h1m4 0h1m5 0h1m3 0h1M152 189.5h3m7 0h1m3 0h1m4 0h1m6 0h1m2 0h1M154 194.1h4m6 0h1m3 0h1m11 0h1m2 0h1M157 198.7h3m6 0h1m4 0h1m10 0h2m1 0h1"/><path stroke="#bbc1e5" d="M145 115.5h1M146 120.2h3M140 124.8h1m7 0h1m1 0h1m8 0h1M139 129.4h1m2 0h1m10 0h1m7 0h2M141 134.0h1m3 0h1m6 0h1m2 0h1m7 0h2M143 138.6h1m3 0h1m6 0h1m2 0h1m8 0h1M145 143.3h1m3 0h1m6 0h1m2 0h1m8 0h1M151 147.9h1m6 0h1M143 152.5h1M146 157.1h1m5 0h1m10 0h1M143 161.7h1m4 0h1m5 0h1m3 0h1m6 0h1m2 0h1M145 166.4h1m4 0h1m5 0h1m3 0h1m6 0h1m2 0h1M147 171.0h1m4 0h1m5 0h1m3 0h1m6 0h1m2 0h1M144 175.6h2m3 0h1m4 0h1m5 0h1m3 0h1m7 0h1m1 0h1M147 180.2h1m3 0h1m11 0h1m2 0h1m7 0h3M149 184.8h1m3 0h1m5 0h1m5 0h1m10 0h3M145 189.5h1m5 0h1m3 0h2m4 0h1m5 0h1m11 0h2M146 194.1h2m5 0h1m4 0h1m4 0h1m5 0h1m3 0h1m7 0h2M146 198.7h4m5 0h2m3 0h1m4 0h1m6 0h1m2 0h1m8 0h1"/><path stroke="#dde0f3" d="M139 124.8h1m9 0h1M140 129.4h2m8 0h3M142 134.0h3m8 0h2M144 138.6h3m8 0h2M146 143.3h3m8 0h2M148 147.9h3m8 0h3M142 152.5h1m7 0h2m1 0h1m7 0h3M142 157.1h1m1 0h2m7 0h1m1 0h1m8 0h2M144 161.7h1m2 0h1m7 0h1m1 0h1m8 0h2M146 166.4h1m2 0h1m7 0h1m1 0h1m8 0h2M148 171.0h1m2 0h1m7 0h3m8 0h2M150 175.6h1m2 0h1m7 0h3m9 0h1M145 180.2h2m5 0h2m1 0h2m7 0h2M148 184.8h1m5 0h2m2 0h1m7 0h3M146 189.5h1m3 0h1m6 0h1m2 0h1m7 0h3M148 194.1h1m3 0h1m6 0h1m2 0h1m7 0h3M150 198.7h1m3 0h1m6 0h2m1 0h1m8 0h2"/><path stroke="#ffffff" d="M152 152.5h1M143 157.1h1m10 0h1M145 161.7h2m9 0h1M147 166.4h2m9 0h1M149 171.0h2M151 175.6h2M154 180.2h1M145 184.8h3m8 0h2M147 189.5h3m8 0h2M149 194.1h3m8 0h2M151 198.7h3m9 0h1"/></g></g><path d="M56.01 198.70 L56.45 194.08 L56.90 189.46 L57.35 184.84 L57.80 180.22 L58.25 175.60 L58.71 170.98 L59.16 166.36 L59.61 161.74 L60.06 157.12 L60.51 152.50 L60.96 147.88 L61.42 143.26 L61.87 138.64 L62.32 134.02 L62.78 129.40 L63.43 124.78 L64.08 120.16 L64.74 115.54 L65.39 110.92 L66.04 106.30 L66.69 101.68 L67.35 97.06 L68.00 92.44 L68.65 87.82 L69.30 83.20 L69.96 78.58 L70.61 73.96 L71.36 69.34 L72.20 64.72 L73.04 60.10 L129.54 60.10 L131.19 64.72 L132.83 69.34 L134.13 73.96 L135.39 78.58 L136.19 83.20 L136.81 87.82 L137.20 92.44 L137.66 97.06 L138.58 101.68 L139.40 106.30 L139.82 110.92 L140.25 115.54 L140.67 120.16 L141.09 124.78 L141.91 129.40 L142.75 134.02 L143.49 138.64 L143.86 143.26 L144.22 147.88 L144.58 152.50 L144.94 157.12 L145.33 161.74 L145.78 166.36 L146.24 170.98 L146.69 175.60 L147.15 180.22 L147.56 184.84 L147.94 189.46 L148.32 194.08 L148.71 198.70" fill="none" stroke="#fff" stroke-width="3.5" stroke-linejoin="round"/><path d="M148.71 198.70 L148.32 194.08 L147.94 189.46 L147.56 184.84 L147.15 180.22 L146.69 175.60 L146.24 170.98 L145.78 166.36 L145.33 161.74 L144.94 157.12 L144.58 152.50 L144.22 147.88 L143.86 143.26 L143.49 138.64 L142.75 134.02 L141.91 129.40 L141.09 124.78 L140.79 120.16 L140.49 115.54 L140.19 110.92 L139.89 106.30 L139.18 101.68 L138.38 97.06 L138.05 92.44 L137.78 87.82 L137.29 83.20 L136.60 78.58 L135.47 73.96 L134.29 69.34 L132.76 64.72 L131.24 60.10 L135.74 60.10 L138.12 64.72 L140.49 69.34 L142.87 73.96 L145.25 78.58 L147.63 83.20 L150.00 87.82 L152.38 92.44 L154.76 97.06 L157.14 101.68 L159.51 106.30 L161.85 110.92 L164.00 115.54 L166.16 120.16 L168.32 124.78 L170.48 129.40 L172.65 134.02 L174.82 138.64 L176.99 143.26 L179.16 147.88 L181.33 152.50 L183.49 157.12 L185.66 161.74 L187.83 166.36 L190.00 170.98 L192.17 175.60 L194.34 180.22 L196.50 184.84 L198.67 189.46 L200.84 194.08 L203.01 198.70" fill="none" stroke="#fff" stroke-width="3.5" stroke-linejoin="round"/><path d="M56.01 198.70 L56.45 194.08 L56.90 189.46 L57.35 184.84 L57.80 180.22 L58.25 175.60 L58.71 170.98 L59.16 166.36 L59.61 161.74 L60.06 157.12 L60.51 152.50 L60.96 147.88 L61.42 143.26 L61.87 138.64 L62.32 134.02 L62.78 129.40 L63.43 124.78 L64.08 120.16 L64.74 115.54 L65.39 110.92 L66.04 106.30 L66.69 101.68 L67.35 97.06 L68.00 92.44 L68.65 87.82 L69.30 83.20 L69.96 78.58 L70.61 73.96 L71.36 69.34 L72.20 64.72 L73.04 60.10 L129.54 60.10 L131.19 64.72 L132.83 69.34 L134.13 73.96 L135.39 78.58 L136.19 83.20 L136.81 87.82 L137.20 92.44 L137.66 97.06 L138.58 101.68 L139.40 106.30 L139.82 110.92 L140.25 115.54 L140.67 120.16 L141.09 124.78 L141.91 129.40 L142.75 134.02 L143.49 138.64 L143.86 143.26 L144.22 147.88 L144.58 152.50 L144.94 157.12 L145.33 161.74 L145.78 166.36 L146.24 170.98 L146.69 175.60 L147.15 180.22 L147.56 184.84 L147.94 189.46 L148.32 194.08 L148.71 198.70" fill="none" stroke="#1a1a1a" stroke-width="1.25" stroke-linejoin="round"/><path d="M148.71 198.70 L148.32 194.08 L147.94 189.46 L147.56 184.84 L147.15 180.22 L146.69 175.60 L146.24 170.98 L145.78 166.36 L145.33 161.74 L144.94 157.12 L144.58 152.50 L144.22 147.88 L143.86 143.26 L143.49 138.64 L142.75 134.02 L141.91 129.40 L141.09 124.78 L140.79 120.16 L140.49 115.54 L140.19 110.92 L139.89 106.30 L139.18 101.68 L138.38 97.06 L138.05 92.44 L137.78 87.82 L137.29 83.20 L136.60 78.58 L135.47 73.96 L134.29 69.34 L132.76 64.72 L131.24 60.10 L135.74 60.10 L138.12 64.72 L140.49 69.34 L142.87 73.96 L145.25 78.58 L147.63 83.20 L150.00 87.82 L152.38 92.44 L154.76 97.06 L157.14 101.68 L159.51 106.30 L161.85 110.92 L164.00 115.54 L166.16 120.16 L168.32 124.78 L170.48 129.40 L172.65 134.02 L174.82 138.64 L176.99 143.26 L179.16 147.88 L181.33 152.50 L183.49 157.12 L185.66 161.74 L187.83 166.36 L190.00 170.98 L192.17 175.60 L194.34 180.22 L196.50 184.84 L198.67 189.46 L200.84 194.08 L203.01 198.70" fill="none" stroke="#1a1a1a" stroke-width="1.25" stroke-linejoin="round"/><path d="M129.04 60.10H131.74" stroke="#1a1a1a" stroke-width="1.25"/><text x="235.5" y="9.8" font-size="11.5" font-weight="bold" fill="#111">b</text><rect x="287.0" y="16.0" width="161.4" height="12.5" fill="url(#cbB)" stroke="#8c8c8c" stroke-width="0.6"/><line x1="314.3" y1="15.9" x2="314.3" y2="17.6" stroke="#555" stroke-width="0.7"/><line x1="341.2" y1="15.9" x2="341.2" y2="17.6" stroke="#555" stroke-width="0.7"/><line x1="368.0" y1="15.9" x2="368.0" y2="17.6" stroke="#555" stroke-width="0.7"/><line x1="394.9" y1="15.9" x2="394.9" y2="17.6" stroke="#555" stroke-width="0.7"/><line x1="421.7" y1="15.9" x2="421.7" y2="17.6" stroke="#555" stroke-width="0.7"/><text x="314.3" y="11.6" font-size="10.4" text-anchor="middle" fill="#4d4d4d" textLength="13.2" lengthAdjust="spacingAndGlyphs">0.0</text><text x="367.6" y="11.6" font-size="10.4" text-anchor="middle" fill="#4d4d4d" textLength="13.2" lengthAdjust="spacingAndGlyphs">0.4</text><text x="421.3" y="11.6" font-size="10.4" text-anchor="middle" fill="#4d4d4d" textLength="13.2" lengthAdjust="spacingAndGlyphs">0.8</text><path d="M287.1 37.4H448.6V198.6H287.1Z" fill="none" stroke="#a8a8a8" stroke-width="1"/><line x1="284.9" y1="37.00" x2="287.1" y2="37.00" stroke="#999" stroke-width="0.9"/><line x1="284.9" y1="60.10" x2="287.1" y2="60.10" stroke="#999" stroke-width="0.9"/><line x1="284.9" y1="83.20" x2="287.1" y2="83.20" stroke="#999" stroke-width="0.9"/><line x1="284.9" y1="106.30" x2="287.1" y2="106.30" stroke="#999" stroke-width="0.9"/><line x1="284.9" y1="129.40" x2="287.1" y2="129.40" stroke="#999" stroke-width="0.9"/><line x1="284.9" y1="152.50" x2="287.1" y2="152.50" stroke="#999" stroke-width="0.9"/><line x1="284.9" y1="175.60" x2="287.1" y2="175.60" stroke="#999" stroke-width="0.9"/><line x1="284.9" y1="198.70" x2="287.1" y2="198.70" stroke="#999" stroke-width="0.9"/><text x="280.4" y="63.5" font-size="10.4" text-anchor="end" fill="#4d4d4d" textLength="16.1" lengthAdjust="spacingAndGlyphs">&#8722;10</text><text x="280.4" y="109.7" font-size="10.4" text-anchor="end" fill="#4d4d4d" textLength="16.1" lengthAdjust="spacingAndGlyphs">&#8722;20</text><text x="280.4" y="155.9" font-size="10.4" text-anchor="end" fill="#4d4d4d" textLength="16.1" lengthAdjust="spacingAndGlyphs">&#8722;30</text><text x="280.4" y="202.1" font-size="10.4" text-anchor="end" fill="#4d4d4d" textLength="16.1" lengthAdjust="spacingAndGlyphs">&#8722;40</text><line x1="302.75" y1="198.6" x2="302.75" y2="200.6" stroke="#999" stroke-width="0.9"/><line x1="317.80" y1="198.6" x2="317.80" y2="200.6" stroke="#999" stroke-width="0.9"/><line x1="332.85" y1="198.6" x2="332.85" y2="200.6" stroke="#999" stroke-width="0.9"/><line x1="347.90" y1="198.6" x2="347.90" y2="200.6" stroke="#999" stroke-width="0.9"/><line x1="362.95" y1="198.6" x2="362.95" y2="200.6" stroke="#999" stroke-width="0.9"/><line x1="378.00" y1="198.6" x2="378.00" y2="200.6" stroke="#999" stroke-width="0.9"/><line x1="393.05" y1="198.6" x2="393.05" y2="200.6" stroke="#999" stroke-width="0.9"/><line x1="408.10" y1="198.6" x2="408.10" y2="200.6" stroke="#999" stroke-width="0.9"/><line x1="423.15" y1="198.6" x2="423.15" y2="200.6" stroke="#999" stroke-width="0.9"/><line x1="438.20" y1="198.6" x2="438.20" y2="200.6" stroke="#999" stroke-width="0.9"/><text x="300.1" y="213.2" font-size="10.1" text-anchor="middle" fill="#4d4d4d" textLength="18.8" lengthAdjust="spacingAndGlyphs">&#8722;0.1</text><text x="332.9" y="213.2" font-size="10.1" text-anchor="middle" fill="#4d4d4d" textLength="13.2" lengthAdjust="spacingAndGlyphs">0.0</text><text x="362.9" y="213.2" font-size="10.1" text-anchor="middle" fill="#4d4d4d" textLength="13.2" lengthAdjust="spacingAndGlyphs">0.1</text><text x="393.1" y="213.2" font-size="10.1" text-anchor="middle" fill="#4d4d4d" textLength="13.2" lengthAdjust="spacingAndGlyphs">0.2</text><text x="423.1" y="213.2" font-size="10.1" text-anchor="middle" fill="#4d4d4d" textLength="13.2" lengthAdjust="spacingAndGlyphs">0.3</text><text x="354.6" y="228.6" font-size="10.3" fill="#4d4d4d"><tspan font-style="italic">V</tspan><tspan font-size="7.4" dy="2.4">b</tspan><tspan dy="-2.4"> (V)</tspan></text><text transform="translate(254.8 131.2) rotate(-90)" font-size="10.3" fill="#4d4d4d"><tspan font-style="italic">V</tspan><tspan font-size="7.4" dy="2.4">g</tspan><tspan dy="-2.4"> (V)</tspan></text><text x="445.6" y="48.3" font-size="10.0" text-anchor="end" fill="#3d3d3d" textLength="55.2" lengthAdjust="spacingAndGlyphs">Theory chiral</text><clipPath id="cL1"><path d="M309.19 60.10 L308.35 64.72 L307.51 69.34 L306.76 73.96 L306.11 78.58 L305.45 83.20 L304.80 87.82 L304.15 92.44 L303.50 97.06 L302.84 101.68 L302.19 106.30 L301.54 110.92 L300.89 115.54 L300.23 120.16 L299.58 124.78 L298.93 129.40 L298.47 134.02 L298.02 138.64 L297.57 143.26 L297.11 147.88 L296.66 152.50 L296.21 157.12 L295.76 161.74 L295.31 166.36 L294.86 170.98 L294.40 175.60 L293.95 180.22 L293.50 184.84 L293.05 189.46 L292.60 194.08 L292.16 198.70 L384.86 198.70 L384.47 194.08 L384.09 189.46 L383.71 184.84 L383.30 180.22 L382.84 175.60 L382.39 170.98 L381.93 166.36 L381.48 161.74 L381.09 157.12 L380.73 152.50 L380.37 147.88 L380.01 143.26 L379.64 138.64 L378.90 134.02 L378.06 129.40 L377.24 124.78 L376.82 120.16 L376.40 115.54 L375.97 110.92 L375.55 106.30 L374.73 101.68 L373.81 97.06 L373.35 92.44 L372.96 87.82 L372.34 83.20 L371.54 78.58 L370.28 73.96 L368.98 69.34 L367.34 64.72 L365.69 60.10Z"/></clipPath><clipPath id="cR1"><path d="M366.49 60.10 L368.14 64.72 L369.78 69.34 L371.08 73.96 L372.34 78.58 L373.14 83.20 L373.76 87.82 L374.15 92.44 L374.61 97.06 L375.53 101.68 L376.35 106.30 L376.77 110.92 L377.20 115.54 L377.62 120.16 L378.04 124.78 L378.86 129.40 L379.70 134.02 L380.44 138.64 L380.81 143.26 L381.17 147.88 L381.53 152.50 L381.89 157.12 L382.28 161.74 L382.73 166.36 L383.19 170.98 L383.64 175.60 L384.10 180.22 L384.51 184.84 L384.89 189.46 L385.27 194.08 L385.66 198.70 L439.16 198.70 L436.99 194.08 L434.82 189.46 L432.65 184.84 L430.49 180.22 L428.32 175.60 L426.15 170.98 L423.98 166.36 L421.81 161.74 L419.64 157.12 L417.48 152.50 L415.31 147.88 L413.14 143.26 L410.97 138.64 L408.80 134.02 L406.63 129.40 L404.47 124.78 L402.31 120.16 L400.15 115.54 L398.00 110.92 L395.66 106.30 L393.29 101.68 L390.91 97.06 L388.53 92.44 L386.15 87.82 L383.78 83.20 L381.40 78.58 L379.02 73.96 L376.64 69.34 L374.27 64.72 L371.89 60.10Z"/></clipPath><g clip-path="url(#cL1)"><g filter="url(#bl)" stroke-width="5.0" fill="none"><path stroke="#dde0f3" d="M307 60.1h6M306 64.7h6M305 69.3h5M304 74.0h4M304 78.6h3m53 0h1M303 83.2h2m29 0h1m8 0h2m8 0h1m8 0h2m8 0h1M304 87.8h1m16 0h1m2 0h1m2 0h2m2 0h1m2 0h1m3 0h1m8 0h1m7 0h1m8 0h2m8 0h1M302 92.4h2m16 0h1m3 0h1m6 0h1m2 0h1m5 0h2m17 0h1m7 0h3M327 97.1h1m1 0h1m1 0h1m5 0h1m4 0h1m8 0h1m9 0h1m9 0h1M317 101.7h1m20 0h1m3 0h1m1 0h1m1 0h1m7 0h1m8 0h1M316 106.3h1m3 0h1m1 0h1m1 0h1m3 0h1m7 0h1m5 0h1m4 0h1m1 0h1m4 0h3m1 0h1m6 0h1m1 0h1M315 110.9h1m1 0h1m1 0h1m19 0h2m6 0h1m3 0h1m8 0h1m8 0h1m7 0h1M314 115.5h1m12 0h1m8 0h1m8 0h1m16 0h1m6 0h5m4 0h1M320 120.2h1m4 0h1m5 0h1m3 0h1m8 0h1m6 0h1m1 0h1m9 0h1m9 0h1M321 124.8h1m18 0h1m3 0h2m3 0h1m1 0h2m2 0h1m9 0h1M313 129.4h1m5 0h1m4 0h1m5 0h1m29 0h2m5 0h1m2 0h1m9 0h1M329 134.0h2m4 0h1m4 0h1m9 0h1m4 0h1m3 0h3m2 0h1m4 0h1m1 0h4m3 0h1M319 138.6h1m4 0h1m4 0h1m10 0h1m9 0h1m6 0h2m4 0h1m2 0h1m6 0h1m6 0h1M306 143.3h1m6 0h1m3 0h1m5 0h1m5 0h1m21 0h2m7 0h1m4 0h1m2 0h1m6 0h1m3 0h1m2 0h1M305 147.9h2m16 0h1m32 0h1m1 0h1m3 0h1m4 0h7m7 0h2M304 152.5h1m17 0h1m34 0h1m2 0h1m3 0h1m6 0h1m3 0h1m2 0h1M303 157.1h1m1 0h1m9 0h2m41 0h1m3 0h7m4 0h1m3 0h1m1 0h1M315 161.7h1m44 0h1m6 0h1m2 0h1m8 0h2M304 166.4h1m9 0h1m45 0h5m4 0h1m2 0h1M309 171.0h1m3 0h2m44 0h1m2 0h1m7 0h1m3 0h1m1 0h1M303 175.6h1m9 0h1m46 0h1m3 0h1m2 0h1m4 0h1m2 0h3M308 180.2h1m3 0h1m48 0h1m3 0h2m1 0h2m2 0h2m1 0h3m6 0h1M299 184.8h1m2 0h1m8 0h2m49 0h1m4 0h6m3 0h3m6 0h1M307 189.5h1m3 0h1m50 0h6m10 0h3M301 194.1h1m8 0h1m55 0h1m2 0h1m4 0h1m4 0h3M306 198.7h1m2 0h1m57 0h1m3 0h1m3 0h1m5 0h1"/><path stroke="#bbc1e5" d="M313 60.1h1m45 0h1M312 64.7h1m39 0h1m8 0h2M310 69.3h2m33 0h1m8 0h2m8 0h2M308 74.0h3m27 0h2m8 0h1m8 0h2m7 0h2M307 78.6h2m17 0h1m2 0h1m1 0h2m7 0h2m8 0h2m7 0h1m1 0h1m7 0h2M305 83.2h3m14 0h1m2 0h1m2 0h1m2 0h3m1 0h1m16 0h1m1 0h1m16 0h1m1 0h1M302 87.8h2m1 0h1m19 0h1m4 0h1m4 0h2m7 0h3m7 0h1m1 0h2m8 0h1m6 0h1M304 92.4h2m13 0h1m6 0h1m1 0h1m4 0h1m5 0h1m7 0h1m1 0h1m7 0h1m8 0h1M301 97.1h1m1 0h2m13 0h1m19 0h1m1 0h1m3 0h1m4 0h2m8 0h1m2 0h1m6 0h1M302 101.7h1m16 0h1m3 0h1m3 0h1m7 0h2m15 0h1m8 0h2m2 0h1m5 0h1m2 0h1M318 106.3h1m13 0h1m15 0h1m27 0h2M323 110.9h1m2 0h1m9 0h1m8 0h1m2 0h1m8 0h1m17 0h1M318 115.5h1m2 0h1m8 0h2m7 0h2m3 0h1m2 0h1m5 0h3m3 0h1m3 0h1m4 0h1m8 0h1M317 120.2h1m8 0h1m3 0h1m8 0h1m8 0h1m8 0h1m3 0h2m3 0h1m3 0h3m3 0h1M313 124.8h1m6 0h1m4 0h1m4 0h1m4 0h1m14 0h1m2 0h1m5 0h1m8 0h1m5 0h1m3 0h1M320 129.4h1m4 0h1m9 0h1m9 0h1m8 0h1m1 0h1m5 0h1m8 0h3m2 0h1M313 134.0h1m5 0h1m4 0h1m33 0h1m9 0h1m6 0h1M318 138.6h1m32 0h1m7 0h1m2 0h1m7 0h3m4 0h1m1 0h1M318 143.3h1m42 0h1m2 0h1m4 0h4m1 0h1m5 0h2M312 147.9h1m4 0h1m39 0h1m8 0h1m9 0h1M316 152.5h1m48 0h1m1 0h4M359 157.1h1m1 0h1m7 0h1m2 0h1m5 0h1M302 161.7h1m7 0h1m50 0h6m4 0h1m2 0h1M365 166.4h1m2 0h1m4 0h1m1 0h1M360 171.0h2m4 0h1m8 0h1M363 175.6h1m4 0h1m2 0h1M362 180.2h1m1 0h1m5 0h2M363 184.8h4M368 189.5h5M362 194.1h4m4 0h1m2 0h1M363 198.7h1m2 0h1m5 0h1m1 0h1"/><path stroke="#98a1d6" d="M314 60.1h1m25 0h2m7 0h2m7 0h1m1 0h1M332 64.7h3m7 0h2m7 0h1m1 0h1m9 0h1M324 69.3h7m3 0h4m6 0h1m1 0h1m9 0h1m6 0h1M323 74.0h10m4 0h1m2 0h1m6 0h1m1 0h1m6 0h1m2 0h1m5 0h1m2 0h1M309 78.6h1m12 0h4m1 0h2m1 0h1m2 0h2m4 0h1m2 0h2m5 0h1m2 0h1m15 0h1m2 0h1M321 83.2h1m1 0h2m1 0h2m1 0h2m5 0h2m3 0h2m2 0h1m15 0h1m2 0h1m5 0h1m3 0h1M306 87.8h1m13 0h1m1 0h2m2 0h1m2 0h1m2 0h2m14 0h1m14 0h1m3 0h1M306 92.4h1m14 0h2m2 0h1m3 0h1m2 0h1m2 0h1m14 0h1m5 0h1m18 0h1M302 97.1h1m2 0h1m14 0h1m3 0h2m6 0h1m2 0h1m7 0h1m1 0h1m2 0h1m4 0h1m9 0h1m4 0h1m3 0h1M301 101.7h1m1 0h1m24 0h1m2 0h2m10 0h1m11 0h2m18 0h1M300 106.3h2m25 0h1m3 0h1m3 0h1m3 0h2m3 0h1m5 0h1m2 0h1m10 0h1m8 0h1M322 110.9h1m4 0h1m3 0h1m11 0h1m22 0h1m3 0h2M322 115.5h1m3 0h1m8 0h1m13 0h1m14 0h1m9 0h1M316 120.2h1m4 0h1m18 0h1m9 0h1m9 0h1M315 124.8h2m37 0h1m6 0h4m4 0h1m1 0h3m5 0h1M314 129.4h2m39 0h1m7 0h1m2 0h1m7 0h2M314 134.0h1m41 0h2m7 0h1m10 0h2M312 138.6h2m46 0h2m5 0h1m1 0h1m8 0h1M312 143.3h1m60 0h1M363 147.9h1m1 0h1m8 0h2M311 152.5h1m46 0h2m6 0h1m9 0h2M360 157.1h1m9 0h2M372 161.7h2M366 166.4h2m6 0h1M367 171.0h1m1 0h1M300 175.6h1m60 0h2m6 0h2M363 180.2h1M371 194.1h2M297 198.7h1m66 0h2m7 0h1"/><path stroke="#5163b9" d="M315 60.1h1m10 0h1m17 0h1m8 0h1m2 0h1m6 0h3M346 64.7h1m2 0h1m16 0h2M349 69.3h1m8 0h1m2 0h1m7 0h1M311 74.0h1m42 0h1m6 0h1m1 0h1m7 0h2M320 78.6h1m24 0h2m7 0h1m9 0h2M348 83.2h2m17 0h1M350 87.8h3m6 0h3m7 0h1M354 92.4h1m8 0h2M347 97.1h1M305 101.7h1m52 0h2M304 106.3h1m55 0h1M298 120.2h1m2 0h1M298 124.8h2M297 147.9h1M295 171.0h6M295 175.6h5M294 180.2h6M293 184.8h6M293 189.5h5M293 194.1h5M292 198.7h1"/><path stroke="#3a4db0" d="M316 60.1h10m28 0h1M314 64.7h11M313 69.3h10M312 74.0h9M311 78.6h9M309 83.2h10M308 87.8h10M307 92.4h10M307 97.1h9M306 101.7h9M305 106.3h9M304 110.9h9M303 115.5h9M302 120.2h9M301 124.8h9M299 129.4h10M297 134.0h2m1 0h8M296 138.6h2m2 0h7M295 143.3h2m2 0h7M295 161.7h1M293 166.4h2M292 171.0h3M292 175.6h2M291 180.2h2M291 184.8h1"/><path stroke="#808ccb" d="M327 60.1h7m5 0h1m2 0h1m5 0h1m2 0h1m9 0h1m5 0h1M313 64.7h1m11 0h7m3 0h1m5 0h1m2 0h1m9 0h1m5 0h1M331 69.3h3m4 0h1m8 0h1m5 0h1m12 0h1M322 74.0h1m10 0h4m9 0h1m22 0h1M321 78.6h1m13 0h1m1 0h2m19 0h1m3 0h1m4 0h1m4 0h1M308 83.2h1m10 0h2m17 0h1m1 0h1m5 0h1m4 0h1m3 0h1m9 0h1M307 87.8h1m10 0h2m19 0h3m1 0h1m9 0h1m18 0h1M317 92.4h2m17 0h1m5 0h1m1 0h1m6 0h1m8 0h1m4 0h1m4 0h1M316 97.1h2m3 0h1m6 0h1m7 0h1m2 0h1m27 0h1M300 101.7h1m3 0h1m10 0h2m3 0h1m3 0h1m15 0h1m8 0h1m7 0h1m2 0h1m9 0h1m5 0h1M302 106.3h1m12 0h1m3 0h1m3 0h1m19 0h1m15 0h1m2 0h2m4 0h1m1 0h1M299 110.9h1m14 0h1m3 0h1m16 0h1m16 0h1m1 0h3m4 0h1m10 0h1M313 115.5h1m3 0h1m30 0h1m7 0h1m1 0h1m6 0h1m10 0h1M312 120.2h2m35 0h1m17 0h1m1 0h1m7 0h2M311 124.8h2m47 0h1m9 0h1M310 129.4h3m51 0h2M309 134.0h4m53 0h2M307 138.6h5m56 0h1M307 143.3h5m50 0h2M307 147.9h5m52 0h1M306 152.5h5M306 157.1h5M305 161.7h5M305 166.4h5M304 171.0h5m59 0h1M304 175.6h5M303 180.2h5M303 184.8h5M298 189.5h1m3 0h5M302 194.1h5M301 198.7h5"/><path stroke="#6d7cc4" d="M334 60.1h1m3 0h1m13 0h1m4 0h1M336 64.7h1m3 0h1m4 0h1m4 0h1m13 0h1m4 0h1M339 69.3h1m3 0h1m13 0h1m4 0h1m4 0h1M341 74.0h1m3 0h1m4 0h1m4 0h1m8 0h1M336 78.6h1m7 0h1m3 0h1m4 0h1M339 83.2h1m10 0h1m9 0h1m8 0h1M358 87.8h1m9 0h1m2 0h1M345 92.4h2m8 0h1m5 0h1m11 0h2M358 97.1h1m14 0h3M339 101.7h1m7 0h2m1 0h2m14 0h1m1 0h2M303 106.3h1m10 0h1m54 0h1m1 0h2M300 110.9h1m1 0h1m10 0h1m30 0h1m8 0h1m8 0h4m7 0h2M298 115.5h1m2 0h1m10 0h1m44 0h1m9 0h1m7 0h1M311 120.2h1m46 0h2m8 0h1M310 124.8h1M309 129.4h1M308 134.0h1"/><path stroke="#5d6ebe" d="M335 60.1h3m5 0h1m3 0h1m14 0h1m3 0h1M337 64.7h3m15 0h1m3 0h1m5 0h1m2 0h1M312 69.3h1m10 0h1m16 0h3m5 0h1m3 0h1m15 0h1m1 0h1M342 74.0h3m6 0h1m8 0h1m9 0h1M347 78.6h1m9 0h1m5 0h1m2 0h1m6 0h1M347 83.2h1m8 0h1m2 0h1m6 0h1m1 0h1M342 87.8h1m6 0h1m12 0h1m7 0h1M343 92.4h1m8 0h1m9 0h1m8 0h2M346 97.1h1m7 0h4m6 0h1m1 0h1M367 101.7h1M351 106.3h2m8 0h1M301 110.9h1m1 0h1M299 115.5h2m1 0h1m63 0h1M299 120.2h2M301 166.4h1M293 198.7h4"/><path stroke="#4558b5" d="M345 60.1h2m8 0h1M347 64.7h2m7 0h3M350 69.3h2m7 0h2M321 74.0h1m30 0h2m8 0h1M310 78.6h1m44 0h2M357 83.2h2M353 92.4h1M306 97.1h1m58 0h1M297 124.8h1m2 0h1M296 129.4h3M296 134.0h1m2 0h1M298 138.6h2M297 143.3h2M295 147.9h2m1 0h7M294 152.5h10M294 157.1h9M293 161.7h2m1 0h6M295 166.4h6M294 175.6h1M293 180.2h1M292 184.8h1M291 189.5h2M290 194.1h3M290 198.7h2"/><path stroke="#ffffff" d="M337 87.8h1M323 92.4h1m3 0h1m2 0h1m6 0h2m9 0h1m9 0h1M319 97.1h1m2 0h2m9 0h1m18 0h1m7 0h1m9 0h1M321 101.7h1m3 0h1m15 0h1m22 0h1m7 0h2M326 106.3h1m14 0h1m15 0h1m16 0h2M330 110.9h1m1 0h1m1 0h1m11 0h1m2 0h1m8 0h1m8 0h2m7 0h1M316 115.5h1m8 0h1m20 0h1m3 0h1m1 0h1m7 0h2M315 120.2h1m6 0h1m18 0h1m3 0h1m6 0h1m1 0h1m1 0h1m7 0h2m8 0h2M326 124.8h1m4 0h1m2 0h1m4 0h1m18 0h1m8 0h1m7 0h1m1 0h1M329 129.4h1m4 0h1m5 0h1m3 0h1m1 0h1m3 0h1m2 0h1m3 0h1m1 0h1m9 0h1m7 0h1m1 0h1M315 134.0h1m2 0h1m1 0h1m4 0h1m13 0h1m5 0h2m4 0h1m10 0h2m6 0h1m8 0h1M314 138.6h1m8 0h1m6 0h1m3 0h2m5 0h1m10 0h1m3 0h1m17 0h1m1 0h1m4 0h1M324 143.3h1m9 0h2m4 0h1m5 0h1m6 0h1m2 0h4m6 0h2m10 0h1M316 147.9h1m1 0h1m3 0h1m5 0h2m4 0h2m10 0h1m5 0h2m5 0h1m17 0h1m2 0h1M317 152.5h1m5 0h1m4 0h1m11 0h1m20 0h1m1 0h1m8 0h1m1 0h1m7 0h1M311 157.1h1m9 0h2m5 0h1m23 0h2m22 0h1m3 0h1m2 0h1M314 161.7h1m6 0h1m6 0h1m24 0h2m4 0h1m8 0h2m5 0h1m2 0h1m2 0h1M315 166.4h1m5 0h1m32 0h2m3 0h1m11 0h1m4 0h1m3 0h2M301 171.0h1m18 0h1m42 0h3m5 0h1m1 0h1m3 0h2m1 0h3M312 175.6h1m7 0h1m44 0h2m6 0h2m3 0h1m2 0h3M311 180.2h1m1 0h1m5 0h1m35 0h1m11 0h1m6 0h1m3 0h1m4 0h1m1 0h1M319 184.8h1m36 0h2m3 0h1m11 0h3m3 0h1m4 0h1M310 189.5h1m47 0h1m1 0h2m11 0h1m3 0h1m8 0h1M309 194.1h1m1 0h1m6 0h1m42 0h1m5 0h2m9 0h1M310 198.7h1m51 0h1m5 0h3m9 0h1m1 0h1"/><path stroke="#fce8ea" d="M326 97.1h1m3 0h1m3 0h1m6 0h1M318 101.7h1m3 0h1m3 0h1m2 0h2m6 0h1m7 0h1m7 0h1M317 106.3h1m12 0h1m3 0h1m10 0h1m20 0h1M321 110.9h1m6 0h1m30 0h1M323 115.5h1m10 0h1m3 0h1m4 0h1M314 120.2h1m19 0h1m1 0h1m18 0h1M314 124.8h1m2 0h1m1 0h1m4 0h1m4 0h1m6 0h1m4 0h1m1 0h1m12 0h2m8 0h1m9 0h1M316 129.4h1m19 0h1m2 0h1m9 0h1m1 0h2m5 0h1m9 0h1m9 0h1M323 134.0h1m10 0h1m6 0h1m7 0h1m4 0h1m25 0h1M317 138.6h1m21 0h1m5 0h2m17 0h2m9 0h1M322 143.3h1m5 0h1m12 0h1m3 0h1m8 0h2m20 0h2M340 147.9h1m4 0h1m1 0h1m6 0h2m4 0h2m16 0h2M315 152.5h1m13 0h1m4 0h2m5 0h1m4 0h2m4 0h2m2 0h1m5 0h1m10 0h1m5 0h3M334 157.1h1m5 0h2m12 0h1m19 0h2m5 0h2M316 161.7h1m5 0h1m4 0h1m6 0h1m20 0h1m2 0h1m17 0h2m4 0h2M313 166.4h1m6 0h1m6 0h2m5 0h1m12 0h1m8 0h3m11 0h1m6 0h3m2 0h2M312 171.0h1m8 0h1m5 0h1m6 0h1m20 0h4m13 0h1m6 0h1m3 0h1M314 175.6h1m4 0h1m7 0h1m6 0h1m20 0h1m3 0h1m19 0h2m3 0h1M320 180.2h1m5 0h2m6 0h1m21 0h1m3 0h1m18 0h1m1 0h2M310 184.8h1m7 0h1m7 0h1m28 0h1m2 0h3m19 0h1M312 189.5h1m5 0h2m6 0h1m29 0h2m1 0h1m14 0h3m4 0h1m3 0h1M298 194.1h1m18 0h1m8 0h1m30 0h4m14 0h1m6 0h1M308 198.7h1m8 0h2m38 0h3m1 0h1m14 0h1m2 0h1m3 0h1"/><path stroke="#f9d1d4" d="M333 101.7h2M321 106.3h1m3 0h1m7 0h1m4 0h1m7 0h1M316 110.9h1m3 0h1m3 0h2m11 0h2m2 0h2m7 0h1M315 115.5h1m3 0h2m11 0h1m4 0h1m3 0h1m9 0h1M318 120.2h1m8 0h1m1 0h1m13 0h1m3 0h1M346 124.8h1m1 0h1M318 129.4h1m2 0h1m4 0h1m4 0h1m9 0h1m5 0h1M336 134.0h1m7 0h1m2 0h2m3 0h1M325 138.6h1m2 0h1m20 0h1m3 0h1m1 0h1M316 143.3h1m2 0h1m10 0h1m19 0h1M313 147.9h1m10 0h1m16 0h1m9 0h1M305 152.5h1m6 0h1m8 0h1m5 0h1m20 0h1m2 0h1m2 0h2M314 157.1h1m2 0h1m5 0h1m3 0h1m1 0h1m5 0h1m10 0h2m3 0h1m5 0h1M304 161.7h1m15 0h1m14 0h1m4 0h2m4 0h2m4 0h1m3 0h2M310 166.4h1m11 0h1m10 0h1m1 0h1m4 0h2m6 0h1m4 0h1M303 171.0h1m11 0h1m3 0h1m6 0h1m1 0h1m4 0h1m6 0h2m5 0h2m5 0h1m29 0h1M311 175.6h1m9 0h1m4 0h1m1 0h1m4 0h1m6 0h2m6 0h1m5 0h1m1 0h3M300 180.2h1m1 0h1m15 0h1m14 0h1m7 0h1m12 0h1m2 0h3m20 0h1M313 184.8h1m6 0h1m6 0h1m5 0h2m6 0h1m6 0h2m31 0h3M301 189.5h1m7 0h1m7 0h1m7 0h1m1 0h1m5 0h2m6 0h1m7 0h1M307 194.1h1m11 0h1m5 0h1m7 0h2m6 0h1m14 0h1m19 0h2m5 0h1m2 0h1M300 198.7h1m10 0h1m4 0h1m8 0h2m6 0h2m21 0h1m3 0h1m16 0h2m5 0h1"/><path stroke="#f5b7bc" d="M329 106.3h1m7 0h1M329 110.9h1m3 0h1M324 115.5h1m3 0h2M319 120.2h1m3 0h2m7 0h1m5 0h1m3 0h1m3 0h1M322 124.8h1m19 0h1M323 129.4h1m19 0h1m4 0h1M317 134.0h1m10 0h1m2 0h1m21 0h1M315 138.6h1m4 0h1m1 0h1m10 0h1m2 0h1m7 0h1m2 0h1m6 0h1M314 143.3h1m18 0h1m2 0h1m2 0h1m4 0h1m2 0h1M315 147.9h1m5 0h1m5 0h1m2 0h1m2 0h1m2 0h1m2 0h1m8 0h1M318 152.5h1m14 0h1m5 0h1m5 0h1M304 157.1h1m28 0h1m8 0h1m5 0h1m6 0h2M303 161.7h1m9 0h1m15 0h1m3 0h1m14 0h1M302 166.4h2m8 0h1m3 0h1m9 0h1m19 0h1M302 171.0h1m19 0h1m12 0h1m6 0h1m6 0h1m3 0h1M301 175.6h2m6 0h1m25 0h1m6 0h1m4 0h1m1 0h1m3 0h1M301 180.2h1m8 0h1m3 0h1m6 0h1m3 0h1m2 0h1m6 0h1m4 0h1m1 0h1m5 0h2M300 184.8h2m6 0h1m8 0h1m7 0h1m9 0h1m4 0h1m1 0h1m11 0h1M299 189.5h2m19 0h1m19 0h1m1 0h1m5 0h1m1 0h1m4 0h1m26 0h3M299 194.1h2m7 0h1m3 0h1m3 0h1m10 0h1m14 0h1m6 0h2m4 0h1m28 0h2M298 198.7h2m7 0h1m11 0h1m4 0h1m16 0h2m6 0h1m35 0h2"/><path stroke="#f29ca1" d="M333 115.5h1m8 0h1M328 120.2h1m4 0h1m3 0h1M318 124.8h1m4 0h1m3 0h2m3 0h2m4 0h1m8 0h1M317 129.4h1m10 0h1m4 0h1m3 0h2M316 134.0h1m4 0h2m3 0h1m6 0h1m4 0h1M316 138.6h1m14 0h1m10 0h1m5 0h1M315 143.3h1m9 0h1m1 0h1m14 0h1M314 147.9h1m4 0h1m24 0h1m5 0h1M313 152.5h2m9 0h1m5 0h1m5 0h1m5 0h1m6 0h2M312 157.1h2m6 0h1m18 0h1m9 0h2M311 161.7h1m5 0h1m5 0h1m2 0h1m12 0h1m2 0h1m8 0h1M319 166.4h1m9 0h1m9 0h1m2 0h1m6 0h1m2 0h1M311 171.0h1m34 0h1m3 0h1m1 0h1M310 175.6h1m4 0h1m2 0h1m6 0h1m24 0h1m1 0h1M332 180.2h1m14 0h1m5 0h1M309 184.8h1m18 0h1m3 0h1m14 0h1m2 0h1M308 189.5h1m4 0h1m10 0h1m7 0h1m2 0h1M320 194.1h1m3 0h1m7 0h1m2 0h1m4 0h1m2 0h1m4 0h1m2 0h1M312 198.7h1m14 0h1m4 0h1m2 0h1m4 0h1m7 0h1m1 0h1m4 0h1"/><path stroke="#f07f86" d="M337 124.8h1M322 129.4h1m4 0h1m4 0h1m9 0h1M327 134.0h1m9 0h1m4 0h2M321 138.6h1m4 0h2m10 0h1m4 0h1M320 143.3h2m9 0h1m11 0h1m4 0h2M320 147.9h1m4 0h1m12 0h1m3 0h1m6 0h1M320 152.5h1m5 0h1M318 157.1h1m5 0h1m1 0h1m3 0h1m5 0h1m8 0h1M312 161.7h1m6 0h1m16 0h1m8 0h1m3 0h1M311 166.4h1m11 0h1m8 0h1m3 0h1M310 171.0h1m5 0h1m1 0h1m6 0h1m3 0h1m2 0h1m6 0h1m11 0h1M322 175.6h1m6 0h1m2 0h1m6 0h1m3 0h1m2 0h1m4 0h1M309 180.2h1m5 0h1m1 0h1m21 0h1m3 0h1m2 0h1m3 0h1m1 0h1M314 184.8h1m6 0h1m2 0h1m14 0h1m13 0h1M316 189.5h1m11 0h1m14 0h1m3 0h1m3 0h1m2 0h1M313 194.1h1m14 0h1m23 0h3M315 198.7h1m7 0h1m19 0h1m7 0h1m2 0h1"/><path stroke="#ec6269" d="M332 134.0h1M332 138.6h1m4 0h1M326 143.3h1m5 0h1m4 0h2M326 147.9h1m4 0h2m4 0h1m5 0h1M319 152.5h1m5 0h1m5 0h2m4 0h2m5 0h1M319 157.1h1m5 0h1m6 0h1m10 0h2M318 161.7h1m5 0h2m4 0h1m1 0h1m10 0h2m5 0h1M317 166.4h2m6 0h1m17 0h1m1 0h1m4 0h2M317 171.0h1m5 0h1m12 0h1m6 0h1M316 175.6h2m18 0h1M316 180.2h1m5 0h1m1 0h1m4 0h1m6 0h1m14 0h1M315 184.8h2m19 0h1m6 0h1m2 0h1m4 0h2M314 189.5h2m5 0h1m9 0h1m4 0h1m2 0h1m12 0h2M315 194.1h1m7 0h1m7 0h1m7 0h1m7 0h1M313 198.7h2m5 0h1m7 0h1m2 0h1m7 0h1m7 0h1m4 0h2"/><path stroke="#e8444c" d="M343 152.5h1M331 157.1h1m5 0h2M331 161.7h1m5 0h2M324 166.4h1m5 0h2m5 0h2m5 0h1M324 171.0h1m5 0h2m6 0h1m6 0h1M323 175.6h2m5 0h2m6 0h1m5 0h2M323 180.2h1m7 0h1m12 0h2M322 184.8h2m5 0h1m1 0h1m6 0h1m5 0h1M322 189.5h2m5 0h1m16 0h1M314 194.1h1m6 0h2m6 0h1m6 0h1m7 0h1M321 198.7h2m13 0h1m7 0h1m1 0h1"/><path stroke="#e4333c" d="M337 171.0h1m6 0h1M337 175.6h1M330 180.2h1m6 0h2M330 184.8h1m6 0h1m7 0h1M330 189.5h1m6 0h2m5 0h2M330 194.1h1m6 0h2m6 0h2M329 198.7h2m6 0h2m6 0h1"/></g></g><g clip-path="url(#cR1)"><g filter="url(#bl)" stroke-width="5.0" fill="none"><path stroke="#3a4db0" d="M364 60.1h10M370 64.7h3M372 69.3h1m1 0h1M369 74.0h1m4 0h1m2 0h1M371 78.6h1m7 0h1M371 83.2h1m7 0h1M374 87.8h1m7 0h1M376 92.4h1m1 0h1m5 0h1m1 0h1M372 97.1h1m6 0h2m6 0h2M374 101.7h1m7 0h1m7 0h1"/><path stroke="#4558b5" d="M366 64.7h4m3 0h4M367 69.3h1m3 0h1m3 0h4M378 74.0h4M376 78.6h1m3 0h4M374 83.2h1m3 0h1m3 0h4M373 87.8h1m2 0h1m4 0h1m2 0h5M383 92.4h1m3 0h4M385 97.1h2m2 0h4M373 101.7h1m7 0h1m6 0h2m1 0h5M376 106.3h2m6 0h2m4 0h8M392 110.9h8M423 180.2h10M425 184.8h10M427 189.5h10M429 194.1h10M432 198.7h10"/><path stroke="#5163b9" d="M368 69.3h1m1 0h1M370 74.0h1m2 0h1M372 78.6h1M373 97.1h1m4 0h1m2 0h1M375 101.7h1m7 0h1M375 106.3h1m7 0h1M378 110.9h5m3 0h2M381 115.5h5M384 120.2h4M386 124.8h5M388 129.4h5M391 134.0h5M393 138.6h5M396 143.3h5M398 147.9h5M400 152.5h6M403 157.1h5M405 161.7h5M407 166.4h6M410 171.0h5M412 175.6h6M415 180.2h5m1 0h2M417 184.8h5m2 0h1M419 189.5h6m1 0h1M422 194.1h5m1 0h1M424 198.7h8"/><path stroke="#5d6ebe" d="M369 69.3h1M371 74.0h2M375 78.6h1M377 87.8h1M375 92.4h1m3 0h1M380 101.7h1M395 115.5h8M383 120.2h1m4 0h1M393 129.4h1M395 143.3h1M402 157.1h1M410 161.7h1M414 180.2h1M422 184.8h1M427 194.1h1"/><path stroke="#3547ab" d="M373 69.3h1M375 74.0h2M370 78.6h1m6 0h2M372 83.2h2m6 0h2M375 87.8h1m7 0h1M377 92.4h1m7 0h1"/><path stroke="#6d7cc4" d="M373 78.6h2M375 83.2h1m1 0h1M372 87.8h1m7 0h1M377 97.1h1M376 101.7h1m7 0h1M378 106.3h1m7 0h1M377 110.9h1m5 0h1m1 0h1m2 0h1M380 115.5h1m7 0h2M397 120.2h1m3 0h4M385 124.8h1M390 134.0h1M398 138.6h1M403 147.9h1M409 171.0h1m5 0h1M421 194.1h1"/><path stroke="#808ccb" d="M376 83.2h1M371 87.8h1m6 0h2M372 92.4h1m1 0h1m5 0h1m1 0h1M374 97.1h1m7 0h1M374 106.3h1m7 0h1M379 115.5h1m6 0h2m2 0h1M398 120.2h3M391 124.8h1m12 0h3M397 147.9h1M408 157.1h1M404 161.7h1M420 180.2h1M416 184.8h1M425 189.5h1M423 198.7h1"/><path stroke="#98a1d6" d="M373 92.4h1m7 0h1M375 97.1h2m6 0h2M379 101.7h1m7 0h1M379 106.3h1m7 0h1M376 110.9h1m7 0h1m4 0h1M375 115.5h1m15 0h1M375 120.2h2m4 0h2m6 0h4M399 124.8h5M383 129.4h1m15 0h1m7 0h1M396 134.0h1M392 138.6h1M384 147.9h1m7 0h1m15 0h1m7 0h1M386 152.5h1m7 0h1m15 0h1m7 0h1M380 157.1h1m7 0h1m7 0h1m15 0h1m7 0h1M413 166.4h1M381 175.6h1m7 0h1m7 0h1m7 0h1m5 0h1m9 0h1m7 0h1M383 180.2h1m7 0h1m7 0h1m7 0h1M385 184.8h1m7 0h1m7 0h1m7 0h1M418 189.5h1"/><path stroke="#bbc1e5" d="M377 101.7h2m6 0h2M380 106.3h2m6 0h2M374 110.9h2m14 0h2M376 115.5h3m13 0h3M377 120.2h4m12 0h4M376 124.8h9m7 0h7M376 129.4h2m3 0h2m1 0h2m1 0h1m9 0h2m1 0h2m3 0h2m1 0h1M377 134.0h3m4 0h4m12 0h4m4 0h3M378 138.6h4m4 0h4m12 0h4m4 0h3M380 143.3h4m4 0h4m9 0h1m2 0h4m4 0h4M382 147.9h2m1 0h2m3 0h2m1 0h2m11 0h2m1 0h2m3 0h2m1 0h1M379 152.5h2m3 0h2m1 0h2m3 0h2m1 0h2m2 0h1m8 0h2m1 0h2m3 0h2m1 0h1M379 157.1h1m1 0h2m3 0h2m1 0h2m3 0h2m1 0h2m11 0h2m1 0h2m3 0h2m1 0h1M381 161.7h4m4 0h4m4 0h4m12 0h4m4 0h3M383 166.4h4m4 0h4m4 0h4m3 0h1m8 0h4m4 0h3M385 171.0h4m4 0h4m4 0h4m12 0h4m4 0h4M382 175.6h2m3 0h2m1 0h2m3 0h2m1 0h2m3 0h2m1 0h2m10 0h3m1 0h2m3 0h2m1 0h1M382 180.2h1m1 0h2m3 0h2m1 0h2m3 0h2m1 0h2m3 0h2m1 0h2m3 0h1M383 184.8h2m1 0h2m3 0h2m1 0h2m3 0h2m1 0h2m3 0h2m1 0h2m3 0h1m7 0h1M386 189.5h4m4 0h4m4 0h4m4 0h4M383 194.1h1m4 0h4m4 0h4m4 0h4m4 0h4m4 0h1M383 198.7h3m4 0h4m4 0h4m4 0h4m4 0h4m4 0h1"/><path stroke="#dde0f3" d="M378 129.4h3m5 0h1m7 0h3m5 0h3M380 134.0h4m4 0h2m7 0h3m4 0h4M382 138.6h4m4 0h2m7 0h3m4 0h4M378 143.3h2m4 0h4m4 0h3m7 0h2m4 0h4M379 147.9h3m5 0h3m5 0h2m7 0h2m5 0h3M381 152.5h3m5 0h3m5 0h2m7 0h2m5 0h3M383 157.1h3m5 0h3m5 0h3m7 0h1m5 0h3M380 161.7h1m4 0h4m4 0h4m4 0h3m7 0h2m4 0h4M380 166.4h3m4 0h4m4 0h4m4 0h3m8 0h1m4 0h4M381 171.0h4m4 0h4m4 0h4m4 0h4m7 0h1m4 0h4M384 175.6h3m5 0h3m5 0h3m5 0h3m13 0h3M386 180.2h3m5 0h3m5 0h3m5 0h3M382 184.8h1m5 0h3m5 0h3m5 0h3m5 0h3M382 189.5h4m4 0h4m4 0h4m4 0h4m4 0h4M384 194.1h4m4 0h4m4 0h4m4 0h4m4 0h4M386 198.7h4m4 0h4m4 0h4m4 0h4m4 0h4"/></g></g><path d="M292.16 198.70 L292.60 194.08 L293.05 189.46 L293.50 184.84 L293.95 180.22 L294.40 175.60 L294.86 170.98 L295.31 166.36 L295.76 161.74 L296.21 157.12 L296.66 152.50 L297.11 147.88 L297.57 143.26 L298.02 138.64 L298.47 134.02 L298.93 129.40 L299.58 124.78 L300.23 120.16 L300.89 115.54 L301.54 110.92 L302.19 106.30 L302.84 101.68 L303.50 97.06 L304.15 92.44 L304.80 87.82 L305.45 83.20 L306.11 78.58 L306.76 73.96 L307.51 69.34 L308.35 64.72 L309.19 60.10 L365.69 60.10 L367.34 64.72 L368.98 69.34 L370.28 73.96 L371.54 78.58 L372.34 83.20 L372.96 87.82 L373.35 92.44 L373.81 97.06 L374.73 101.68 L375.55 106.30 L375.97 110.92 L376.40 115.54 L376.82 120.16 L377.24 124.78 L378.06 129.40 L378.90 134.02 L379.64 138.64 L380.01 143.26 L380.37 147.88 L380.73 152.50 L381.09 157.12 L381.48 161.74 L381.93 166.36 L382.39 170.98 L382.84 175.60 L383.30 180.22 L383.71 184.84 L384.09 189.46 L384.47 194.08 L384.86 198.70" fill="none" stroke="#fff" stroke-width="3.5" stroke-linejoin="round"/><path d="M385.66 198.70 L385.27 194.08 L384.89 189.46 L384.51 184.84 L384.10 180.22 L383.64 175.60 L383.19 170.98 L382.73 166.36 L382.28 161.74 L381.89 157.12 L381.53 152.50 L381.17 147.88 L380.81 143.26 L380.44 138.64 L379.70 134.02 L378.86 129.40 L378.04 124.78 L377.62 120.16 L377.20 115.54 L376.77 110.92 L376.35 106.30 L375.53 101.68 L374.61 97.06 L374.15 92.44 L373.76 87.82 L373.14 83.20 L372.34 78.58 L371.08 73.96 L369.78 69.34 L368.14 64.72 L366.49 60.10 L371.89 60.10 L374.27 64.72 L376.64 69.34 L379.02 73.96 L381.40 78.58 L383.78 83.20 L386.15 87.82 L388.53 92.44 L390.91 97.06 L393.29 101.68 L395.66 106.30 L398.00 110.92 L400.15 115.54 L402.31 120.16 L404.47 124.78 L406.63 129.40 L408.80 134.02 L410.97 138.64 L413.14 143.26 L415.31 147.88 L417.48 152.50 L419.64 157.12 L421.81 161.74 L423.98 166.36 L426.15 170.98 L428.32 175.60 L430.49 180.22 L432.65 184.84 L434.82 189.46 L436.99 194.08 L439.16 198.70" fill="none" stroke="#fff" stroke-width="3.5" stroke-linejoin="round"/><path d="M292.16 198.70 L292.60 194.08 L293.05 189.46 L293.50 184.84 L293.95 180.22 L294.40 175.60 L294.86 170.98 L295.31 166.36 L295.76 161.74 L296.21 157.12 L296.66 152.50 L297.11 147.88 L297.57 143.26 L298.02 138.64 L298.47 134.02 L298.93 129.40 L299.58 124.78 L300.23 120.16 L300.89 115.54 L301.54 110.92 L302.19 106.30 L302.84 101.68 L303.50 97.06 L304.15 92.44 L304.80 87.82 L305.45 83.20 L306.11 78.58 L306.76 73.96 L307.51 69.34 L308.35 64.72 L309.19 60.10 L365.69 60.10 L367.34 64.72 L368.98 69.34 L370.28 73.96 L371.54 78.58 L372.34 83.20 L372.96 87.82 L373.35 92.44 L373.81 97.06 L374.73 101.68 L375.55 106.30 L375.97 110.92 L376.40 115.54 L376.82 120.16 L377.24 124.78 L378.06 129.40 L378.90 134.02 L379.64 138.64 L380.01 143.26 L380.37 147.88 L380.73 152.50 L381.09 157.12 L381.48 161.74 L381.93 166.36 L382.39 170.98 L382.84 175.60 L383.30 180.22 L383.71 184.84 L384.09 189.46 L384.47 194.08 L384.86 198.70" fill="none" stroke="#1a1a1a" stroke-width="1.25" stroke-linejoin="round"/><path d="M385.66 198.70 L385.27 194.08 L384.89 189.46 L384.51 184.84 L384.10 180.22 L383.64 175.60 L383.19 170.98 L382.73 166.36 L382.28 161.74 L381.89 157.12 L381.53 152.50 L381.17 147.88 L380.81 143.26 L380.44 138.64 L379.70 134.02 L378.86 129.40 L378.04 124.78 L377.62 120.16 L377.20 115.54 L376.77 110.92 L376.35 106.30 L375.53 101.68 L374.61 97.06 L374.15 92.44 L373.76 87.82 L373.14 83.20 L372.34 78.58 L371.08 73.96 L369.78 69.34 L368.14 64.72 L366.49 60.10 L371.89 60.10 L374.27 64.72 L376.64 69.34 L379.02 73.96 L381.40 78.58 L383.78 83.20 L386.15 87.82 L388.53 92.44 L390.91 97.06 L393.29 101.68 L395.66 106.30 L398.00 110.92 L400.15 115.54 L402.31 120.16 L404.47 124.78 L406.63 129.40 L408.80 134.02 L410.97 138.64 L413.14 143.26 L415.31 147.88 L417.48 152.50 L419.64 157.12 L421.81 161.74 L423.98 166.36 L426.15 170.98 L428.32 175.60 L430.49 180.22 L432.65 184.84 L434.82 189.46 L436.99 194.08 L439.16 198.70" fill="none" stroke="#1a1a1a" stroke-width="1.25" stroke-linejoin="round"/><path d="M365.19 60.10H366.99" stroke="#1a1a1a" stroke-width="1.25"/><text x="472.8" y="9.8" font-size="11.5" font-weight="bold" fill="#111">c</text><rect x="523.1" y="16.0" width="161.6" height="12.5" fill="url(#cbB)" stroke="#8c8c8c" stroke-width="0.6"/><line x1="550.0" y1="15.9" x2="550.0" y2="17.6" stroke="#555" stroke-width="0.7"/><line x1="576.9" y1="15.9" x2="576.9" y2="17.6" stroke="#555" stroke-width="0.7"/><line x1="603.7" y1="15.9" x2="603.7" y2="17.6" stroke="#555" stroke-width="0.7"/><line x1="630.6" y1="15.9" x2="630.6" y2="17.6" stroke="#555" stroke-width="0.7"/><line x1="657.4" y1="15.9" x2="657.4" y2="17.6" stroke="#555" stroke-width="0.7"/><text x="550.0" y="11.6" font-size="10.4" text-anchor="middle" fill="#4d4d4d" textLength="13.2" lengthAdjust="spacingAndGlyphs">0.0</text><text x="603.7" y="11.6" font-size="10.4" text-anchor="middle" fill="#4d4d4d" textLength="13.2" lengthAdjust="spacingAndGlyphs">0.4</text><text x="657.5" y="11.6" font-size="10.4" text-anchor="middle" fill="#4d4d4d" textLength="13.2" lengthAdjust="spacingAndGlyphs">0.8</text><path d="M523.2 37.4H683.9V198.6H523.2Z" fill="none" stroke="#a8a8a8" stroke-width="1"/><line x1="521.0" y1="37.00" x2="523.2" y2="37.00" stroke="#999" stroke-width="0.9"/><line x1="521.0" y1="60.10" x2="523.2" y2="60.10" stroke="#999" stroke-width="0.9"/><line x1="521.0" y1="83.20" x2="523.2" y2="83.20" stroke="#999" stroke-width="0.9"/><line x1="521.0" y1="106.30" x2="523.2" y2="106.30" stroke="#999" stroke-width="0.9"/><line x1="521.0" y1="129.40" x2="523.2" y2="129.40" stroke="#999" stroke-width="0.9"/><line x1="521.0" y1="152.50" x2="523.2" y2="152.50" stroke="#999" stroke-width="0.9"/><line x1="521.0" y1="175.60" x2="523.2" y2="175.60" stroke="#999" stroke-width="0.9"/><line x1="521.0" y1="198.70" x2="523.2" y2="198.70" stroke="#999" stroke-width="0.9"/><text x="516.5" y="63.5" font-size="10.4" text-anchor="end" fill="#4d4d4d" textLength="16.1" lengthAdjust="spacingAndGlyphs">&#8722;10</text><text x="516.5" y="109.7" font-size="10.4" text-anchor="end" fill="#4d4d4d" textLength="16.1" lengthAdjust="spacingAndGlyphs">&#8722;20</text><text x="516.5" y="155.9" font-size="10.4" text-anchor="end" fill="#4d4d4d" textLength="16.1" lengthAdjust="spacingAndGlyphs">&#8722;30</text><text x="516.5" y="202.1" font-size="10.4" text-anchor="end" fill="#4d4d4d" textLength="16.1" lengthAdjust="spacingAndGlyphs">&#8722;40</text><line x1="538.90" y1="198.6" x2="538.90" y2="200.6" stroke="#999" stroke-width="0.9"/><line x1="553.95" y1="198.6" x2="553.95" y2="200.6" stroke="#999" stroke-width="0.9"/><line x1="569.00" y1="198.6" x2="569.00" y2="200.6" stroke="#999" stroke-width="0.9"/><line x1="584.05" y1="198.6" x2="584.05" y2="200.6" stroke="#999" stroke-width="0.9"/><line x1="599.10" y1="198.6" x2="599.10" y2="200.6" stroke="#999" stroke-width="0.9"/><line x1="614.15" y1="198.6" x2="614.15" y2="200.6" stroke="#999" stroke-width="0.9"/><line x1="629.20" y1="198.6" x2="629.20" y2="200.6" stroke="#999" stroke-width="0.9"/><line x1="644.25" y1="198.6" x2="644.25" y2="200.6" stroke="#999" stroke-width="0.9"/><line x1="659.30" y1="198.6" x2="659.30" y2="200.6" stroke="#999" stroke-width="0.9"/><line x1="674.35" y1="198.6" x2="674.35" y2="200.6" stroke="#999" stroke-width="0.9"/><text x="536.3" y="213.2" font-size="10.1" text-anchor="middle" fill="#4d4d4d" textLength="18.8" lengthAdjust="spacingAndGlyphs">&#8722;0.1</text><text x="569.0" y="213.2" font-size="10.1" text-anchor="middle" fill="#4d4d4d" textLength="13.2" lengthAdjust="spacingAndGlyphs">0.0</text><text x="599.1" y="213.2" font-size="10.1" text-anchor="middle" fill="#4d4d4d" textLength="13.2" lengthAdjust="spacingAndGlyphs">0.1</text><text x="629.2" y="213.2" font-size="10.1" text-anchor="middle" fill="#4d4d4d" textLength="13.2" lengthAdjust="spacingAndGlyphs">0.2</text><text x="659.3" y="213.2" font-size="10.1" text-anchor="middle" fill="#4d4d4d" textLength="13.2" lengthAdjust="spacingAndGlyphs">0.3</text><text x="590.7" y="228.6" font-size="10.3" fill="#4d4d4d"><tspan font-style="italic">V</tspan><tspan font-size="7.4" dy="2.4">b</tspan><tspan dy="-2.4"> (V)</tspan></text><text transform="translate(490.9 131.2) rotate(-90)" font-size="10.3" fill="#4d4d4d"><tspan font-style="italic">V</tspan><tspan font-size="7.4" dy="2.4">g</tspan><tspan dy="-2.4"> (V)</tspan></text><text x="680.9" y="48.3" font-size="10.0" text-anchor="end" fill="#3d3d3d" textLength="74.0" lengthAdjust="spacingAndGlyphs">Theory non-chiral</text><clipPath id="cL2"><path d="M545.34 60.10 L544.50 64.72 L543.66 69.34 L542.91 73.96 L542.26 78.58 L541.60 83.20 L540.95 87.82 L540.30 92.44 L539.65 97.06 L538.99 101.68 L538.34 106.30 L537.69 110.92 L537.04 115.54 L536.38 120.16 L535.73 124.78 L535.08 129.40 L534.62 134.02 L534.17 138.64 L533.72 143.26 L533.26 147.88 L532.81 152.50 L532.36 157.12 L531.91 161.74 L531.46 166.36 L531.01 170.98 L530.55 175.60 L530.10 180.22 L529.65 184.84 L529.20 189.46 L528.75 194.08 L528.31 198.70 L621.01 198.70 L620.62 194.08 L620.24 189.46 L619.86 184.84 L619.45 180.22 L618.99 175.60 L618.54 170.98 L618.08 166.36 L617.63 161.74 L617.24 157.12 L616.88 152.50 L616.52 147.88 L616.16 143.26 L615.79 138.64 L615.05 134.02 L614.21 129.40 L613.39 124.78 L612.97 120.16 L612.55 115.54 L612.12 110.92 L611.70 106.30 L610.88 101.68 L609.96 97.06 L609.50 92.44 L609.11 87.82 L608.49 83.20 L607.69 78.58 L606.43 73.96 L605.13 69.34 L603.49 64.72 L601.84 60.10Z"/></clipPath><clipPath id="cR2"><path d="M602.64 60.10 L604.29 64.72 L605.93 69.34 L607.23 73.96 L608.49 78.58 L609.29 83.20 L609.91 87.82 L610.30 92.44 L610.76 97.06 L611.68 101.68 L612.50 106.30 L612.92 110.92 L613.35 115.54 L613.77 120.16 L614.19 124.78 L615.01 129.40 L615.85 134.02 L616.59 138.64 L616.96 143.26 L617.32 147.88 L617.68 152.50 L618.04 157.12 L618.43 161.74 L618.88 166.36 L619.34 170.98 L619.79 175.60 L620.25 180.22 L620.66 184.84 L621.04 189.46 L621.42 194.08 L621.81 198.70 L675.31 198.70 L673.14 194.08 L670.97 189.46 L668.80 184.84 L666.64 180.22 L664.47 175.60 L662.30 170.98 L660.13 166.36 L657.96 161.74 L655.79 157.12 L653.63 152.50 L651.46 147.88 L649.29 143.26 L647.12 138.64 L644.95 134.02 L642.78 129.40 L640.62 124.78 L638.46 120.16 L636.30 115.54 L634.15 110.92 L631.81 106.30 L629.44 101.68 L627.06 97.06 L624.68 92.44 L622.30 87.82 L619.93 83.20 L617.55 78.58 L615.17 73.96 L612.79 69.34 L610.42 64.72 L608.04 60.10Z"/></clipPath><g clip-path="url(#cL2)"><g filter="url(#bl)" stroke-width="5.0" fill="none"><path stroke="#dde0f3" d="M543 60.1h6m46 0h1M542 64.7h5m23 0h1m8 0h1m8 0h1M541 69.3h1m1 0h2m28 0h1M542 74.0h1m23 0h1m6 0h1m19 0h1M540 78.6h1m21 0h1m2 0h2m2 0h1m6 0h2m9 0h1m18 0h1M557 83.2h1m3 0h1m6 0h1m1 0h1m1 0h1m7 0h2m7 0h1m18 0h1M556 87.8h2m3 0h1m6 0h2m11 0h2m18 0h2m7 0h2M556 92.4h1m6 0h1m1 0h1m6 0h1m1 0h1m1 0h1m8 0h2m7 0h2m7 0h2M565 97.1h1m1 0h1m4 0h1m13 0h1m9 0h1m8 0h2M539 101.7h1m17 0h1m13 0h1m5 0h1m1 0h1M537 106.3h1m16 0h1m1 0h1m2 0h1m1 0h1m2 0h1m4 0h1m7 0h1m6 0h1m7 0h2m9 0h1m8 0h2M535 110.9h1m12 0h1m15 0h1m4 0h1m9 0h1m5 0h1m8 0h2m8 0h2m8 0h1M536 115.5h1m21 0h1m1 0h1m10 0h1m2 0h1m9 0h1m3 0h1m17 0h2M534 120.2h2m22 0h2m5 0h1m3 0h2m12 0h1m5 0h1m1 0h1m9 0h1m6 0h2M533 124.8h2m11 0h1m10 0h2m4 0h2m4 0h1m1 0h1m3 0h1m4 0h1m2 0h1m7 0h1m10 0h2m8 0h4M533 129.4h1m9 0h1m13 0h2m4 0h2m4 0h3m3 0h2m10 0h1m16 0h2m8 0h1M534 134.0h1m10 0h1m10 0h2m5 0h2m5 0h1m6 0h1m3 0h1m5 0h1m10 0h2m16 0h1M556 138.6h2m4 0h2m5 0h2m4 0h1m2 0h1m3 0h1m2 0h1m1 0h1m12 0h1m10 0h3M544 143.3h1m10 0h2m5 0h2m5 0h2m5 0h3m3 0h1m1 0h1m27 0h1m3 0h1M554 147.9h2m6 0h2m5 0h2m5 0h2m7 0h1m8 0h2m22 0h1M532 152.5h1m21 0h2m5 0h2m6 0h1m5 0h1m6 0h1m3 0h1m22 0h2m4 0h1M530 157.1h2m21 0h2m6 0h2m5 0h3m12 0h1m3 0h1m22 0h1m1 0h1M529 161.7h2m22 0h2m6 0h1m6 0h3m5 0h3m4 0h1m2 0h2m7 0h2m7 0h2m5 0h1m3 0h1m1 0h2M529 166.4h1m11 0h1m6 0h1m3 0h2m6 0h2m6 0h2m6 0h2m18 0h2m7 0h2M552 171.0h1m7 0h2m6 0h2m6 0h1m1 0h1m12 0h1m6 0h1m15 0h1M551 175.6h2m7 0h1m7 0h2m6 0h1m2 0h1m4 0h1m7 0h1m20 0h2M530 180.2h1m19 0h2m7 0h2m7 0h2m7 0h3m5 0h1m3 0h1m24 0h1M545 184.8h1m4 0h2m7 0h2m7 0h2m6 0h3m5 0h1m3 0h1m3 0h1m15 0h2m5 0h1M529 189.5h1m19 0h2m7 0h3m7 0h2m6 0h1m1 0h2m9 0h1m10 0h2m7 0h1m1 0h1m4 0h1M549 194.1h2m7 0h2m8 0h2m7 0h1m1 0h1m5 0h1m4 0h1m10 0h2m7 0h1m1 0h2m3 0h1M528 198.7h1m8 0h1m10 0h2m8 0h2m7 0h3m7 0h3m6 0h1m7 0h1m17 0h6"/><path stroke="#98a1d6" d="M549 60.1h1m12 0h1m1 0h3m1 0h1m1 0h1m4 0h1m1 0h2m5 0h1m9 0h1m2 0h1m5 0h1M549 64.7h1m11 0h1m1 0h1m1 0h2m1 0h1m2 0h1m8 0h1m6 0h1m2 0h1M560 69.3h3m1 0h2m1 0h1m1 0h1m1 0h1m2 0h1m4 0h2m2 0h1m5 0h1m9 0h1m2 0h1M560 74.0h2m2 0h1m3 0h1m1 0h1m1 0h1m4 0h1m7 0h2m5 0h1m2 0h1m5 0h1M545 78.6h1m11 0h1m1 0h2m3 0h1m7 0h2m1 0h1m3 0h1m5 0h1m11 0h2m5 0h1m2 0h1M543 83.2h2m11 0h1m2 0h1m3 0h1m3 0h1m8 0h1m1 0h1m18 0h1M542 87.8h1m11 0h2m2 0h1m8 0h1m8 0h2m2 0h1m2 0h2m15 0h1m2 0h1m5 0h1M540 92.4h2m11 0h1m8 0h1m7 0h1m11 0h3m8 0h1m8 0h1m2 0h1m5 0h1M538 97.1h1m13 0h1m4 0h1m8 0h1m4 0h1m2 0h1m7 0h1m12 0h1m2 0h1m5 0h1m3 0h2M553 101.7h1m2 0h1m23 0h1m6 0h1m2 0h1m1 0h1m4 0h1m2 0h1m1 0h1m3 0h1m5 0h1M570 106.3h1m4 0h2m2 0h1m1 0h1m9 0h1m2 0h1m6 0h1m2 0h1m3 0h1M570 110.9h1m11 0h1m3 0h2m1 0h1m3 0h1m2 0h1m6 0h1m2 0h1m3 0h3M575 115.5h1m10 0h2m7 0h1m1 0h4m8 0h1m1 0h4M547 120.2h1m27 0h2m15 0h1m6 0h1m14 0h1M593 124.8h2m6 0h1m6 0h1M552 129.4h1m28 0h3m4 0h1m4 0h3m10 0h1m2 0h1M552 134.0h1m29 0h3m8 0h1m3 0h1m2 0h1m7 0h2m3 0h1M588 138.6h3m3 0h1m7 0h1m3 0h4m6 0h1M600 143.3h1m2 0h6m1 0h1m7 0h1M533 147.9h1m49 0h2m8 0h1m3 0h1m3 0h2m1 0h3m3 0h1m1 0h1M543 152.5h1m39 0h3m5 0h1m2 0h1m1 0h7m4 0h1m4 0h3M585 157.1h1m6 0h3m1 0h1m4 0h1m2 0h1m9 0h2M593 161.7h1m3 0h1m4 0h1m3 0h1m3 0h1M584 166.4h1m6 0h1m3 0h1m3 0h1m4 0h1m3 0h1m2 0h1M531 171.0h1m15 0h1m37 0h2m5 0h1m7 0h1m4 0h1m4 0h3M586 175.6h2m6 0h1m3 0h1m1 0h3m3 0h5M593 180.2h8m3 0h3m2 0h4M539 184.8h1m53 0h1m3 0h1m3 0h1m4 0h1m4 0h1m1 0h1M544 189.5h1m41 0h2m10 0h1m3 0h1m10 0h2M587 194.1h3m5 0h1m4 0h1m3 0h1m4 0h1M535 198.7h1m60 0h1m4 0h1m2 0h2m4 0h1"/><path stroke="#808ccb" d="M550 60.1h1m10 0h1m1 0h1m5 0h1m3 0h2M560 64.7h1m1 0h1m9 0h2m2 0h2m3 0h1m14 0h1m3 0h1m4 0h1M548 69.3h1m9 0h2m8 0h1m6 0h2m16 0h1m4 0h1M557 74.0h2m12 0h1m10 0h1m22 0h1M546 78.6h1m9 0h1m14 0h1m2 0h1m5 0h1m3 0h1m9 0h1m8 0h1m4 0h1M545 83.2h1m9 0h1m18 0h1m7 0h1m4 0h1m3 0h1m4 0h1m4 0h1m4 0h1m3 0h1M575 87.8h1m2 0h1m6 0h1m3 0h1m4 0h1m4 0h1M552 92.4h1m18 0h1m9 0h1m5 0h1m4 0h1m3 0h1m9 0h1M541 97.1h1m33 0h1m4 0h2m3 0h1m3 0h1m9 0h1m10 0h1M549 101.7h1m1 0h1m23 0h2M550 106.3h1m29 0h1m4 0h1m2 0h3m8 0h2M537 110.9h1m11 0h1m30 0h1m28 0h1M548 115.5h1m32 0h2m11 0h1m6 0h1m8 0h1M586 120.2h1m1 0h1m7 0h3m4 0h1m2 0h1M552 124.8h1m34 0h1m1 0h1m5 0h3m7 0h1M589 129.4h2m8 0h1m2 0h1m4 0h2M542 134.0h1m53 0h1m7 0h1M534 138.6h1m63 0h1m4 0h1m1 0h1M589 143.3h1m1 0h1m4 0h1m2 0h1m9 0h1M590 147.9h1m1 0h1m5 0h3m2 0h1m7 0h1M592 152.5h2m9 0h2m1 0h1M549 157.1h1m47 0h1m1 0h2m4 0h1m2 0h1M542 161.7h1m48 0h2m5 0h1m8 0h1m1 0h1M594 166.4h1m8 0h1m5 0h2M593 171.0h1m2 0h1m4 0h1M595 175.6h3m5 0h3M601 180.2h3M594 184.8h3m8 0h1m6 0h1M594 189.5h1m2 0h1m5 0h1m3 0h1M529 194.1h1m8 0h1m57 0h1m2 0h1m5 0h1m2 0h1M597 198.7h4m5 0h4"/><path stroke="#5163b9" d="M551 60.1h1m30 0h1m16 0h2M583 64.7h2m7 0h1m1 0h1M557 69.3h1m28 0h2m7 0h3M556 74.0h1m31 0h2m8 0h2M555 78.6h1m26 0h1m8 0h2m7 0h2M554 83.2h1m38 0h1m1 0h1m7 0h1M587 87.8h1m7 0h1m1 0h1M543 92.4h1m44 0h2m8 0h1M550 97.1h1m42 0h1m8 0h1M585 101.7h1m8 0h2m8 0h1M596 106.3h1M545 115.5h1M541 138.6h1M534 143.3h1M540 147.9h1M539 157.1h1M538 166.4h1M537 175.6h1M536 184.8h1M535 194.1h1M529 198.7h1"/><path stroke="#4558b5" d="M552 60.1h8m30 0h2M550 64.7h9m34 0h1M549 69.3h8M548 74.0h8M547 78.6h8M546 83.2h8m40 0h1M545 87.8h8m43 0h1M544 92.4h8M539 106.3h1M537 115.5h1M544 120.2h1M532 166.4h1M530 189.5h1"/><path stroke="#6d7cc4" d="M560 60.1h1m10 0h2m6 0h1m3 0h1m4 0h1m4 0h1m4 0h1m3 0h1M559 64.7h1m15 0h1m6 0h1m3 0h1m4 0h1M578 69.3h1m5 0h1m18 0h1m3 0h1M547 74.0h1m30 0h4m5 0h1m3 0h1m4 0h1m3 0h1m5 0h1M581 78.6h1m1 0h1m5 0h1m9 0h1m9 0h1M575 83.2h1m16 0h1m12 0h1M544 87.8h1m34 0h1m18 0h1m5 0h1m2 0h2M579 92.4h1m11 0h1m9 0h1m5 0h2m1 0h1M583 97.1h1m6 0h2m2 0h1m5 0h1M552 101.7h1m31 0h1m1 0h1m6 0h1m2 0h1M551 106.3h2m33 0h2m7 0h1m2 0h1m6 0h1m1 0h1M550 110.9h3m28 0h1m8 0h1m1 0h1m4 0h4m1 0h1m4 0h2M549 115.5h4m38 0h1m12 0h1M536 120.2h1m11 0h5m34 0h1m5 0h3M547 124.8h5m36 0h1m9 0h3m5 0h2M535 129.4h1m10 0h6M546 134.0h6m42 0h2m5 0h1m1 0h1M545 138.6h7m43 0h1m1 0h1m6 0h1M545 143.3h7m38 0h1m6 0h2M544 147.9h7m40 0h1M544 152.5h6m55 0h1M543 157.1h6m49 0h1m7 0h2M532 161.7h1m10 0h6m50 0h3m6 0h1M542 166.4h6m44 0h2m6 0h1m1 0h1M541 171.0h6m47 0h2m6 0h3M541 175.6h6M540 180.2h6M530 184.8h1m9 0h5m57 0h3M539 189.5h5m51 0h2m7 0h3M539 194.1h5m53 0h2m7 0h2M538 198.7h5"/><path stroke="#bbc1e5" d="M567 60.1h1m8 0h1m8 0h3m8 0h1M547 64.7h2m15 0h1m2 0h1m1 0h1m8 0h1m10 0h1m7 0h3M542 69.3h1m2 0h3m15 0h1m2 0h1m3 0h1m1 0h1m8 0h2m7 0h3m7 0h2M540 74.0h2m1 0h4m12 0h1m2 0h2m1 0h1m1 0h1m1 0h1m4 0h3m6 0h2m9 0h1m7 0h3M541 78.6h4m13 0h1m2 0h1m1 0h1m3 0h2m1 0h1m7 0h1m7 0h1m1 0h1m6 0h2m8 0h1M539 83.2h4m15 0h1m1 0h1m1 0h1m1 0h1m1 0h1m4 0h1m1 0h1m3 0h1m1 0h1m8 0h1m1 0h1m7 0h3m6 0h1m1 0h1M538 87.8h4m1 0h1m15 0h1m2 0h2m2 0h1m3 0h2m2 0h1m15 0h4M538 92.4h2m2 0h1m11 0h1m2 0h2m2 0h1m4 0h2m7 0h1m2 0h1M537 97.1h1m1 0h2m10 0h1m1 0h1m2 0h1m4 0h2m7 0h1m5 0h1m2 0h1m8 0h1m8 0h1m9 0h1M536 101.7h3m11 0h1m4 0h1m4 0h2m3 0h2m3 0h1m3 0h1m6 0h1m1 0h1m4 0h2m1 0h1m6 0h2m1 0h1m5 0h5M536 106.3h1m1 0h1m10 0h1m3 0h1m1 0h1m4 0h1m4 0h2m4 0h1m30 0h1m6 0h3M553 110.9h3m3 0h2m4 0h1m5 0h1m3 0h2m11 0h1m24 0h1M553 115.5h2m4 0h1m4 0h2m4 0h1m5 0h1m3 0h1m2 0h1m1 0h1m4 0h1m5 0h1m8 0h1m2 0h1M553 120.2h1m10 0h1m12 0h1m3 0h2m2 0h1m14 0h1m1 0h1m4 0h1m2 0h4M535 124.8h1m34 0h1m5 0h2m3 0h2m3 0h1m3 0h1m1 0h1m11 0h1m4 0h3M591 129.4h2m3 0h3m4 0h1m6 0h4M575 134.0h2m11 0h5m12 0h3m2 0h3m1 0h2M552 138.6h1m23 0h2m5 0h2m6 0h1m7 0h1m1 0h1m8 0h1m3 0h2m1 0h1M541 143.3h1m41 0h1m4 0h1m3 0h1m2 0h1m5 0h2m8 0h1m5 0h1M582 147.9h1m6 0h1m6 0h1m10 0h3m3 0h1M540 152.5h1m9 0h1m25 0h2m12 0h1m4 0h1m12 0h1m2 0h1M532 157.1h1m43 0h3m5 0h1m1 0h1m3 0h2m3 0h1m6 0h2m5 0h1m3 0h1m2 0h1M539 161.7h1m44 0h2m4 0h1m3 0h1m8 0h1m12 0h1M583 166.4h1m1 0h2m11 0h1m8 0h1m4 0h1M538 171.0h1m38 0h1m6 0h1m2 0h1m9 0h1m1 0h1m6 0h4m3 0h1M540 175.6h1m36 0h2m6 0h1m2 0h1m4 0h1m5 0h1m11 0h2M537 180.2h1m48 0h3m3 0h1m14 0h2m4 0h1M585 184.8h3m10 0h3m6 0h1m2 0h1m3 0h1M536 189.5h1m40 0h1m7 0h1m2 0h1m4 0h1m5 0h1m8 0h1m3 0h1m2 0h1M578 194.1h1m7 0h1m7 0h1m8 0h1m10 0h3M587 198.7h4m4 0h1m6 0h2m7 0h1"/><path stroke="#5d6ebe" d="M580 60.1h2m7 0h1m2 0h1m8 0h1M574 64.7h1m10 0h1m9 0h1m5 0h4M577 69.3h1m7 0h1m2 0h1m5 0h1m9 0h3M590 74.0h1m6 0h1m9 0h2M590 78.6h1m2 0h1m8 0h1M583 83.2h4m15 0h1m1 0h1M553 87.8h1m32 0h1m1 0h1m16 0h2M580 92.4h1m9 0h1m6 0h1m1 0h2m8 0h1M584 97.1h1m7 0h1m8 0h1m1 0h1m7 0h1M540 101.7h1m62 0h1m1 0h1M597 106.3h1m8 0h1M546 110.9h1m44 0h1m9 0h1M592 115.5h2m8 0h2M604 120.2h2M600 129.4h2M602 134.0h1M596 138.6h1M533 152.5h1M601 166.4h1M531 175.6h1"/><path stroke="#ffffff" d="M565 83.2h1m3 0h1M560 87.8h1m3 0h2m6 0h1M555 92.4h1m3 0h1m8 0h2m3 0h1m3 0h1M554 97.1h2m2 0h1m1 0h1m12 0h1m13 0h1M562 101.7h1m1 0h1m2 0h1m1 0h1m8 0h1m3 0h1M548 106.3h1m25 0h1m3 0h1m3 0h1M536 110.9h1m21 0h1m2 0h1m4 0h1m5 0h1m1 0h1m2 0h1m5 0h2M535 115.5h1m19 0h1m7 0h1m2 0h1m2 0h1m7 0h1m11 0h1M554 120.2h1m2 0h1m2 0h1m2 0h1m7 0h1m2 0h1m5 0h1m3 0h1M544 124.8h1m8 0h1m5 0h1m5 0h1m12 0h1M534 129.4h1m21 0h1m5 0h1m2 0h1m11 0h1m2 0h1m3 0h1m30 0h2M532 134.0h2m24 0h1m3 0h1m6 0h1m1 0h1m2 0h1m10 0h1M555 138.6h1m8 0h1m3 0h1m23 0h2M533 143.3h1m20 0h1m2 0h1m3 0h1m2 0h1m3 0h1m2 0h1m3 0h1m5 0h1m3 0h1m7 0h2m18 0h1m1 0h1M531 147.9h2m18 0h1m4 0h1m4 0h1m6 0h1m2 0h1m3 0h1m2 0h1m2 0h1m32 0h1m2 0h1M530 152.5h2m21 0h1m2 0h1m3 0h1m2 0h1m4 0h1m1 0h1m7 0h1m10 0h1M552 157.1h1m2 0h1m4 0h1m2 0h1m11 0h1m3 0h1m9 0h1m21 0h1m5 0h1M531 161.7h1m20 0h1m2 0h1m4 0h1m1 0h1m12 0h1m3 0h1m2 0h1m6 0h1m22 0h3m4 0h1M530 166.4h2m19 0h1m2 0h1m4 0h1m2 0h1m4 0h1m2 0h1m4 0h1m2 0h1m3 0h1m4 0h1m2 0h1m22 0h8M529 171.0h2m20 0h1m1 0h1m5 0h1m2 0h1m4 0h1m2 0h1m4 0h1m3 0h1m3 0h1m4 0h1m26 0h6M528 175.6h1m21 0h1m2 0h1m5 0h1m1 0h1m5 0h1m2 0h1m4 0h1m13 0h1m1 0h1m23 0h6M549 180.2h1m2 0h1m5 0h1m2 0h1m5 0h1m2 0h1m5 0h1m3 0h1m3 0h1m6 0h1m23 0h1m2 0h4M549 184.8h1m2 0h1m5 0h1m2 0h1m5 0h1m2 0h1m4 0h1m3 0h1m9 0h1m31 0h1M538 189.5h1m9 0h1m2 0h1m5 0h1m3 0h1m5 0h1m2 0h1m4 0h1m8 0h1m25 0h1m6 0h1M527 194.1h2m18 0h2m2 0h1m5 0h1m2 0h1m5 0h2m2 0h1m5 0h1m3 0h1m12 0h1m17 0h1m6 0h1M526 198.7h2m15 0h1m3 0h1m2 0h1m6 0h1m2 0h1m5 0h1m3 0h1m5 0h1m3 0h1m4 0h1m5 0h1m1 0h1m24 0h2"/><path stroke="#fce8ea" d="M573 87.8h1M560 92.4h1m3 0h1M563 97.1h2m4 0h1m7 0h2M554 101.7h1m4 0h1m12 0h2M557 106.3h1m4 0h1m4 0h1m4 0h1m10 0h1M556 110.9h1m6 0h1M547 115.5h1m24 0h1M545 120.2h1m20 0h1m1 0h1m9 0h1m11 0h1M556 124.8h1m5 0h1m5 0h1m5 0h1m4 0h1m4 0h1M553 129.4h1m5 0h1m8 0h1m3 0h1m1 0h1m3 0h1m7 0h1M555 134.0h1m9 0h1m2 0h1m9 0h1m7 0h1m30 0h1M532 138.6h2m20 0h1m3 0h1m2 0h1m9 0h1m2 0h1m6 0h1m4 0h1M531 143.3h2m46 0h1m6 0h2m26 0h1M553 147.9h1m3 0h1m2 0h1m3 0h1m9 0h1m11 0h1m1 0h1m26 0h2M564 152.5h1m2 0h1m3 0h1m2 0h1m12 0h1m28 0h1m1 0h1M542 157.1h1m13 0h1m10 0h1m3 0h1m10 0h1m5 0h1m29 0h1M551 161.7h1m7 0h1m3 0h1m3 0h1m3 0h1m16 0h1M555 166.4h1m7 0h1m7 0h1m7 0h1M550 171.0h1m3 0h1m3 0h1m12 0h1M529 175.6h2m18 0h1m4 0h1m3 0h1m3 0h1m3 0h1m4 0h1m8 0h1m2 0h1M528 180.2h2m9 0h1m6 0h1m6 0h1m3 0h1m4 0h1m3 0h1m4 0h1m3 0h1m7 0h1m6 0h1m25 0h2M527 184.8h3m18 0h1m4 0h1m3 0h1m4 0h1m3 0h1m4 0h1m8 0h1m2 0h1m6 0h2m24 0h1m3 0h1M527 189.5h2m18 0h1m4 0h1m13 0h1m4 0h1m8 0h1m9 0h1m1 0h1m29 0h1M526 194.1h1m25 0h1m3 0h1m4 0h1m9 0h1m3 0h1m8 0h1M546 198.7h1m4 0h1m4 0h1m4 0h1m3 0h1m5 0h1m3 0h1m5 0h1m2 0h1m7 0h1"/><path stroke="#3a4db0" d="M542 97.1h8M541 101.7h8M540 106.3h8M538 110.9h8M538 115.5h7M537 120.2h7M536 124.8h8M536 129.4h7M535 134.0h7M535 138.6h6M535 143.3h6M534 147.9h6M534 152.5h6M533 157.1h6M533 161.7h6M533 166.4h5M532 171.0h6M532 175.6h5M531 180.2h6M531 184.8h5M531 189.5h5M530 194.1h5M530 198.7h5"/><path stroke="#f9d1d4" d="M559 97.1h1m8 0h1M558 101.7h1m4 0h1m4 0h1M558 106.3h1m4 0h1m4 0h1M547 110.9h1m19 0h2m4 0h1m4 0h1M546 115.5h1m10 0h1m3 0h1m6 0h1m4 0h1m5 0h1M546 120.2h1m15 0h1m9 0h1m6 0h1M545 124.8h1m8 0h1m5 0h1m5 0h1m5 0h1m12 0h1M544 129.4h2m9 0h1M543 134.0h2m14 0h1m1 0h1m10 0h1m7 0h1M542 138.6h3m20 0h1m1 0h1m11 0h1M542 143.3h2m8 0h2m4 0h1m1 0h1m6 0h1m4 0h1m1 0h1m5 0h1M541 147.9h3m23 0h1m4 0h1m6 0h1M541 152.5h2m9 0h1m4 0h1m21 0h1m1 0h1m6 0h1m28 0h1M540 157.1h2m17 0h1m4 0h1m9 0h1m44 0h1M540 161.7h2m7 0h1m6 0h1m17 0h1m5 0h2M539 166.4h2m9 0h1m7 0h1m7 0h1m7 0h1m5 0h1m7 0h2M539 171.0h2m14 0h1m7 0h1m2 0h1m7 0h1m5 0h1m1 0h1m7 0h1M538 175.6h2m17 0h1m5 0h1m10 0h1m15 0h1M538 180.2h1m9 0h1m5 0h1m19 0h1m6 0h1M537 184.8h2m35 0h1m42 0h3M537 189.5h1m15 0h1m2 0h1m5 0h1m2 0h1m8 0h1m8 0h1m34 0h1m2 0h1M536 194.1h2m6 0h1m1 0h1m15 0h1m2 0h1m15 0h1m9 0h2m26 0h1m2 0h1M536 198.7h1m15 0h1m2 0h1m64 0h1"/><path stroke="#f5b7bc" d="M573 106.3h1M557 110.9h1m4 0h1M556 115.5h1m5 0h1m4 0h1m10 0h1M555 120.2h2m4 0h1m5 0h1m5 0h1M561 129.4h1m4 0h1m6 0h1m5 0h1m5 0h1M553 134.0h2m11 0h2m5 0h1M560 138.6h1m11 0h1m7 0h1M565 143.3h1M552 147.9h1m12 0h1m7 0h1m6 0h1m6 0h1M559 152.5h1m6 0h1m5 0h1M551 157.1h1m14 0h1m5 0h1m7 0h2M550 161.7h1m7 0h1m5 0h1m1 0h1m5 0h1M556 166.4h1m7 0h1m7 0h1m8 0h1M549 171.0h1m7 0h1m14 0h1m16 0h1M547 175.6h2m6 0h1m9 0h1m6 0h1m8 0h2M556 180.2h1m6 0h1m1 0h1m6 0h1m9 0h1M547 184.8h1m6 0h1m1 0h1m6 0h1m1 0h1m6 0h1m8 0h2M546 189.5h1m25 0h1m8 0h1m9 0h1m27 0h2M553 194.1h1m1 0h1m16 0h1m1 0h1m8 0h1m36 0h2M545 198.7h1m16 0h1m1 0h1m7 0h1m1 0h1m7 0h2m37 0h3"/><path stroke="#f29ca1" d="M555 124.8h1m5 0h1m5 0h1m5 0h1M554 129.4h1m5 0h1m6 0h1M560 134.0h1m18 0h1M553 138.6h1m5 0h1m6 0h1m6 0h1M559 143.3h1m6 0h1m6 0h1M558 147.9h2m6 0h1M551 152.5h1m6 0h1m6 0h1m7 0h1m6 0h1M550 157.1h1m6 0h2m6 0h1m7 0h1M557 161.7h1m7 0h1m7 0h1M549 166.4h1m7 0h1m7 0h1m7 0h1M548 171.0h1m7 0h1m7 0h2m7 0h1m7 0h1M556 175.6h1m7 0h1m8 0h1M547 180.2h1m7 0h1m8 0h1m8 0h1M546 184.8h1m8 0h1m8 0h1m8 0h1M545 189.5h1m8 0h2m7 0h2m8 0h1m8 0h1M545 194.1h1m8 0h1m8 0h2m8 0h1m8 0h1M544 198.7h1m8 0h2m8 0h1m9 0h1"/></g></g><g clip-path="url(#cR2)"><g filter="url(#bl)" stroke-width="5.0" fill="none"><path stroke="#3a4db0" d="M600 60.1h11M607 64.7h6M610 69.3h5M612 74.0h6M615 78.6h5M617 83.2h4M619 87.8h5M622 92.4h4M624 97.1h3M627 101.7h2"/><path stroke="#4558b5" d="M602 64.7h5M603 69.3h3m2 0h2M605 74.0h3m3 0h1M607 78.6h3m4 0h1M609 83.2h3m4 0h1m4 0h1M612 87.8h2m10 0h1M614 92.4h3m4 0h1m4 0h1M609 97.1h1m7 0h2m8 0h3M619 101.7h2m5 0h1m2 0h2M618 106.3h5m6 0h3M620 110.9h5m6 0h3M623 115.5h5m6 0h1M625 120.2h5M627 124.8h5M629 129.4h5M632 134.0h5M634 138.6h5M636 143.3h5M638 147.9h5M640 152.5h6M643 157.1h5M645 161.7h5M647 166.4h5M649 171.0h6M652 175.6h5M654 180.2h5M656 184.8h5M658 189.5h6M660 194.1h6M663 198.7h5"/><path stroke="#5163b9" d="M606 69.3h2M608 74.0h3M606 78.6h1m3 0h1m2 0h1M608 83.2h1m3 0h1m2 0h1M611 87.8h1m2 0h1m3 0h1M608 92.4h1m11 0h1M608 97.1h1m1 0h1m5 0h1m6 0h1M611 101.7h2m5 0h1m2 0h1m9 0h1M613 106.3h2m8 0h1m4 0h1m3 0h2M616 110.9h1m8 0h1m8 0h1M618 115.5h1m3 0h1m10 0h1m1 0h2M636 120.2h2M638 124.8h2M634 129.4h1m6 0h1M631 134.0h1M643 147.9h1M652 166.4h1M651 175.6h1M664 189.5h9M666 194.1h10M662 198.7h1m5 0h10"/><path stroke="#5d6ebe" d="M611 78.6h2M607 83.2h1m5 0h2M610 87.8h1m4 0h1m1 0h1M613 92.4h1m3 0h1M611 97.1h1m3 0h1m3 0h1m2 0h1M610 101.7h1m2 0h1m11 0h1M615 106.3h1m1 0h1M615 110.9h1m1 0h1m8 0h1m3 0h1m4 0h2M611 115.5h1m7 0h1m8 0h1m8 0h1M612 120.2h2m6 0h2m2 0h1m5 0h1m4 0h1m2 0h2M614 124.8h2m6 0h2m8 0h1m4 0h1m2 0h1M617 129.4h1m7 0h1m16 0h1M627 134.0h1m15 0h2M629 138.6h1m3 0h1m11 0h2M631 143.3h1m9 0h1m5 0h1M642 157.1h1M653 180.2h1M661 184.8h1"/><path stroke="#6d7cc4" d="M607 87.8h1m1 0h1m6 0h1M609 92.4h1m2 0h1m5 0h2M620 97.1h2M617 101.7h1m4 0h1m1 0h1M612 106.3h1m11 0h1m2 0h1M610 110.9h1m7 0h1M612 115.5h1m4 0h1m2 0h1m11 0h1m5 0h1M611 120.2h1m7 0h1m2 0h1m17 0h1M624 124.8h1m16 0h1M616 129.4h1m7 0h1m1 0h1m16 0h1M618 134.0h3m5 0h1m1 0h1m16 0h1M614 138.6h1m6 0h2m5 0h1m1 0h1m8 0h1m7 0h1M615 143.3h2m6 0h2m7 0h1m15 0h1M617 147.9h2m6 0h2m6 0h2m15 0h1M620 152.5h1m6 0h2m6 0h2m15 0h1M630 157.1h1m6 0h2m15 0h1M632 161.7h1m7 0h1m3 0h1m5 0h1m5 0h1M642 166.4h2M644 171.0h2M646 175.6h2m15 0h1M648 180.2h2m9 0h1m5 0h1M651 184.8h1m15 0h1M653 189.5h1"/><path stroke="#808ccb" d="M608 87.8h1M610 92.4h2M612 97.1h1m1 0h1M609 101.7h1m4 0h1m8 0h1M616 106.3h1m8 0h2M614 110.9h1m4 0h1m7 0h1m1 0h1M629 115.5h1M614 120.2h1m16 0h1m2 0h1M613 124.8h1m2 0h1m4 0h1m4 0h1m9 0h1m5 0h1M618 129.4h1m25 0h1M637 134.0h1m8 0h1M620 138.6h1m27 0h1M614 143.3h1m7 0h1m7 0h1m2 0h1m1 0h1m13 0h1M624 147.9h1m7 0h1m2 0h1m13 0h1m1 0h1M619 152.5h1m9 0h1m7 0h1m15 0h1M621 157.1h3m5 0h1m1 0h1m7 0h1m8 0h1m6 0h1M616 161.7h2m5 0h3m5 0h1m1 0h1m5 0h1m1 0h1m15 0h1M618 166.4h2m6 0h2m5 0h3m5 0h1m16 0h2M620 171.0h2m6 0h2m6 0h2m5 0h1m17 0h1M622 175.6h2m6 0h2m6 0h2m24 0h1M624 180.2h2m6 0h2m6 0h2m8 0h1m15 0h1M618 184.8h2m6 0h2m6 0h2m6 0h3m5 0h1m1 0h1m2 0h1m12 0h1M621 189.5h1m7 0h1m7 0h1m6 0h3m5 0h1m1 0h1M623 194.1h1m7 0h1m7 0h2m6 0h2m5 0h3M625 198.7h1m7 0h1m7 0h2m6 0h2m6 0h2"/><path stroke="#98a1d6" d="M613 97.1h1M615 101.7h2M611 106.3h1M611 110.9h1m16 0h1M613 115.5h1m2 0h1m4 0h1m8 0h2M618 120.2h1m4 0h1m9 0h1M625 124.8h1m7 0h1M615 129.4h1m7 0h1m3 0h1m7 0h1m4 0h1M613 134.0h1m3 0h1m3 0h1m3 0h1m3 0h1m12 0h1M615 138.6h1m7 0h1m3 0h1m3 0h1m17 0h1M617 143.3h1m7 0h1m24 0h2M616 147.9h1m2 0h1m7 0h1m9 0h1m14 0h1M618 152.5h1m2 0h1m4 0h1m7 0h1m19 0h1M620 157.1h1m7 0h1m7 0h1m19 0h1M638 161.7h1m19 0h1M617 166.4h1m7 0h1m10 0h1m7 0h1m1 0h1m13 0h1M619 171.0h1m2 0h1m4 0h1m2 0h1m4 0h1m2 0h1m7 0h1m13 0h1m1 0h1M621 175.6h1m2 0h1m4 0h1m2 0h1m4 0h1m2 0h1m4 0h1m2 0h1m8 0h1m4 0h1M618 180.2h1m4 0h1m2 0h1m4 0h1m2 0h1m4 0h1m2 0h1m4 0h1m19 0h1M620 184.8h1m7 0h1m7 0h1m12 0h1m19 0h1M620 189.5h1m1 0h1m5 0h1m1 0h1m5 0h1m1 0h1m18 0h1M622 194.1h1m1 0h1m5 0h1m1 0h1m5 0h1m7 0h1M624 198.7h1m1 0h1m5 0h1m1 0h1m5 0h1m7 0h1m2 0h1m4 0h1m2 0h1"/><path stroke="#bbc1e5" d="M610 106.3h1M612 110.9h2M615 115.5h1M615 120.2h1m16 0h1M612 124.8h1m4 0h1m2 0h1m13 0h2M619 129.4h1m8 0h1M619 138.6h1M621 143.3h1m7 0h1M615 147.9h1m4 0h1m2 0h1m4 0h1m2 0h1m4 0h1m7 0h1m8 0h1M622 152.5h1m7 0h1m7 0h1m7 0h1m8 0h1M616 157.1h1m7 0h1m7 0h1m7 0h1m16 0h1M618 161.7h1m3 0h1m3 0h1m3 0h1m3 0h1m7 0h1m12 0h1m3 0h1M616 166.4h1m3 0h1m3 0h1m3 0h1m3 0h1m7 0h1m20 0h1M618 171.0h1m7 0h1m7 0h1m7 0h1m5 0h1m14 0h1M665 175.6h2M619 180.2h1m7 0h1m7 0h1m7 0h1m24 0h1M621 184.8h1m3 0h1m3 0h1m3 0h1m3 0h1m3 0h1m3 0h1m7 0h1m16 0h1M619 189.5h1m3 0h1m3 0h1m3 0h1m3 0h1m3 0h1m3 0h1m3 0h1m3 0h1m3 0h1M621 194.1h1m3 0h1m3 0h1m3 0h1m3 0h1m3 0h1m3 0h1m3 0h1m3 0h1m3 0h1M619 198.7h1m3 0h1m3 0h1m3 0h1m3 0h1m3 0h1m3 0h1m3 0h1m7 0h1"/><path stroke="#dde0f3" d="M614 115.5h1M616 120.2h2M618 124.8h2M614 129.4h1m5 0h1m1 0h1M614 134.0h1m1 0h1m5 0h1m1 0h1m5 0h1m7 0h4M616 138.6h1m1 0h1m5 0h1m1 0h1m5 0h1M618 143.3h1m7 0h1m7 0h1m7 0h1M645 147.9h4M617 152.5h1m7 0h1m7 0h1m5 0h1m11 0h1M617 157.1h1m1 0h1m5 0h1m1 0h1m7 0h1m17 0h1M619 161.7h1m1 0h1m5 0h1m1 0h1m5 0h1m1 0h1m13 0h4M621 166.4h1m1 0h1m5 0h1m1 0h1m5 0h1m7 0h1m16 0h1M617 171.0h1m5 0h1m1 0h1m5 0h1m7 0h1m7 0h1m7 0h1m8 0h1M617 175.6h1m2 0h1m4 0h1m2 0h1m4 0h1m2 0h1m4 0h1m2 0h1m4 0h1m8 0h4M620 180.2h1m1 0h1m5 0h1m1 0h1m7 0h1m7 0h1m4 0h1M622 184.8h1m1 0h1m5 0h1m1 0h1m7 0h1m7 0h1M624 189.5h1m1 0h1m5 0h1m1 0h1m5 0h1m1 0h1m5 0h1m1 0h1M620 194.1h1m5 0h1m1 0h1m5 0h1m1 0h1m5 0h1m7 0h1m8 0h1M620 198.7h1m1 0h1m5 0h1m1 0h1m5 0h1m7 0h1m7 0h1m7 0h1"/><path stroke="#ffffff" d="M613 129.4h1m7 0h1M615 134.0h1m7 0h1M617 138.6h1m7 0h1M619 143.3h2m6 0h2M621 147.9h2m6 0h2M615 152.5h2m6 0h2m6 0h2M618 157.1h1m7 0h1m6 0h2m6 0h1M620 161.7h1m7 0h1m7 0h1m6 0h1M622 166.4h1m7 0h1m7 0h2M624 171.0h1m7 0h2m6 0h2M618 175.6h2m6 0h2m6 0h2m6 0h2m6 0h1M621 180.2h1m7 0h1m6 0h2m6 0h2m6 0h1M623 184.8h1m7 0h1m6 0h2m6 0h2m6 0h1m11 0h1M625 189.5h1m7 0h1m7 0h1m7 0h1m6 0h1M619 194.1h1m7 0h1m7 0h1m7 0h2m6 0h2m5 0h1M621 198.7h1m7 0h1m7 0h2m6 0h2m6 0h2"/><path stroke="#fce8ea" d="M636 129.4h4M640 138.6h1M643 143.3h4M649 157.1h4M656 171.0h4M664 180.2h1M662 184.8h4M661 198.7h1"/><path stroke="#f29ca1" d="M641 138.6h3M647 152.5h1M660 180.2h1"/><path stroke="#f5b7bc" d="M644 138.6h1"/><path stroke="#f07f86" d="M648 152.5h3M654 166.4h4M661 180.2h3"/><path stroke="#f9d1d4" d="M653 166.4h1"/></g></g><path d="M528.31 198.70 L528.75 194.08 L529.20 189.46 L529.65 184.84 L530.10 180.22 L530.55 175.60 L531.01 170.98 L531.46 166.36 L531.91 161.74 L532.36 157.12 L532.81 152.50 L533.26 147.88 L533.72 143.26 L534.17 138.64 L534.62 134.02 L535.08 129.40 L535.73 124.78 L536.38 120.16 L537.04 115.54 L537.69 110.92 L538.34 106.30 L538.99 101.68 L539.65 97.06 L540.30 92.44 L540.95 87.82 L541.60 83.20 L542.26 78.58 L542.91 73.96 L543.66 69.34 L544.50 64.72 L545.34 60.10 L601.84 60.10 L603.49 64.72 L605.13 69.34 L606.43 73.96 L607.69 78.58 L608.49 83.20 L609.11 87.82 L609.50 92.44 L609.96 97.06 L610.88 101.68 L611.70 106.30 L612.12 110.92 L612.55 115.54 L612.97 120.16 L613.39 124.78 L614.21 129.40 L615.05 134.02 L615.79 138.64 L616.16 143.26 L616.52 147.88 L616.88 152.50 L617.24 157.12 L617.63 161.74 L618.08 166.36 L618.54 170.98 L618.99 175.60 L619.45 180.22 L619.86 184.84 L620.24 189.46 L620.62 194.08 L621.01 198.70" fill="none" stroke="#fff" stroke-width="3.5" stroke-linejoin="round"/><path d="M621.81 198.70 L621.42 194.08 L621.04 189.46 L620.66 184.84 L620.25 180.22 L619.79 175.60 L619.34 170.98 L618.88 166.36 L618.43 161.74 L618.04 157.12 L617.68 152.50 L617.32 147.88 L616.96 143.26 L616.59 138.64 L615.85 134.02 L615.01 129.40 L614.19 124.78 L613.77 120.16 L613.35 115.54 L612.92 110.92 L612.50 106.30 L611.68 101.68 L610.76 97.06 L610.30 92.44 L609.91 87.82 L609.29 83.20 L608.49 78.58 L607.23 73.96 L605.93 69.34 L604.29 64.72 L602.64 60.10 L608.04 60.10 L610.42 64.72 L612.79 69.34 L615.17 73.96 L617.55 78.58 L619.93 83.20 L622.30 87.82 L624.68 92.44 L627.06 97.06 L629.44 101.68 L631.81 106.30 L634.15 110.92 L636.30 115.54 L638.46 120.16 L640.62 124.78 L642.78 129.40 L644.95 134.02 L647.12 138.64 L649.29 143.26 L651.46 147.88 L653.63 152.50 L655.79 157.12 L657.96 161.74 L660.13 166.36 L662.30 170.98 L664.47 175.60 L666.64 180.22 L668.80 184.84 L670.97 189.46 L673.14 194.08 L675.31 198.70" fill="none" stroke="#fff" stroke-width="3.5" stroke-linejoin="round"/><path d="M528.31 198.70 L528.75 194.08 L529.20 189.46 L529.65 184.84 L530.10 180.22 L530.55 175.60 L531.01 170.98 L531.46 166.36 L531.91 161.74 L532.36 157.12 L532.81 152.50 L533.26 147.88 L533.72 143.26 L534.17 138.64 L534.62 134.02 L535.08 129.40 L535.73 124.78 L536.38 120.16 L537.04 115.54 L537.69 110.92 L538.34 106.30 L538.99 101.68 L539.65 97.06 L540.30 92.44 L540.95 87.82 L541.60 83.20 L542.26 78.58 L542.91 73.96 L543.66 69.34 L544.50 64.72 L545.34 60.10 L601.84 60.10 L603.49 64.72 L605.13 69.34 L606.43 73.96 L607.69 78.58 L608.49 83.20 L609.11 87.82 L609.50 92.44 L609.96 97.06 L610.88 101.68 L611.70 106.30 L612.12 110.92 L612.55 115.54 L612.97 120.16 L613.39 124.78 L614.21 129.40 L615.05 134.02 L615.79 138.64 L616.16 143.26 L616.52 147.88 L616.88 152.50 L617.24 157.12 L617.63 161.74 L618.08 166.36 L618.54 170.98 L618.99 175.60 L619.45 180.22 L619.86 184.84 L620.24 189.46 L620.62 194.08 L621.01 198.70" fill="none" stroke="#1a1a1a" stroke-width="1.25" stroke-linejoin="round"/><path d="M621.81 198.70 L621.42 194.08 L621.04 189.46 L620.66 184.84 L620.25 180.22 L619.79 175.60 L619.34 170.98 L618.88 166.36 L618.43 161.74 L618.04 157.12 L617.68 152.50 L617.32 147.88 L616.96 143.26 L616.59 138.64 L615.85 134.02 L615.01 129.40 L614.19 124.78 L613.77 120.16 L613.35 115.54 L612.92 110.92 L612.50 106.30 L611.68 101.68 L610.76 97.06 L610.30 92.44 L609.91 87.82 L609.29 83.20 L608.49 78.58 L607.23 73.96 L605.93 69.34 L604.29 64.72 L602.64 60.10 L608.04 60.10 L610.42 64.72 L612.79 69.34 L615.17 73.96 L617.55 78.58 L619.93 83.20 L622.30 87.82 L624.68 92.44 L627.06 97.06 L629.44 101.68 L631.81 106.30 L634.15 110.92 L636.30 115.54 L638.46 120.16 L640.62 124.78 L642.78 129.40 L644.95 134.02 L647.12 138.64 L649.29 143.26 L651.46 147.88 L653.63 152.50 L655.79 157.12 L657.96 161.74 L660.13 166.36 L662.30 170.98 L664.47 175.60 L666.64 180.22 L668.80 184.84 L670.97 189.46 L673.14 194.08 L675.31 198.70" fill="none" stroke="#1a1a1a" stroke-width="1.25" stroke-linejoin="round"/><path d="M601.34 60.10H603.14" stroke="#1a1a1a" stroke-width="1.25"/><text x="75" y="256" font-size="11.5" font-weight="bold" fill="#111">d</text><path d="M126.6 251.9H287.3V413.3H126.6Z" fill="none" stroke="#a8a8a8" stroke-width="1"/><line x1="124.4" y1="251.65" x2="126.6" y2="251.65" stroke="#999" stroke-width="0.9"/><line x1="124.4" y1="274.80" x2="126.6" y2="274.80" stroke="#999" stroke-width="0.9"/><line x1="124.4" y1="297.95" x2="126.6" y2="297.95" stroke="#999" stroke-width="0.9"/><line x1="124.4" y1="321.10" x2="126.6" y2="321.10" stroke="#999" stroke-width="0.9"/><line x1="124.4" y1="344.25" x2="126.6" y2="344.25" stroke="#999" stroke-width="0.9"/><line x1="124.4" y1="367.40" x2="126.6" y2="367.40" stroke="#999" stroke-width="0.9"/><line x1="124.4" y1="390.55" x2="126.6" y2="390.55" stroke="#999" stroke-width="0.9"/><line x1="124.4" y1="413.70" x2="126.6" y2="413.70" stroke="#999" stroke-width="0.9"/><text x="120.4" y="278.9" font-size="10.4" text-anchor="end" fill="#4d4d4d" textLength="16.1" lengthAdjust="spacingAndGlyphs">&#8722;10</text><text x="120.4" y="325.2" font-size="10.4" text-anchor="end" fill="#4d4d4d" textLength="16.1" lengthAdjust="spacingAndGlyphs">&#8722;20</text><text x="120.4" y="371.5" font-size="10.4" text-anchor="end" fill="#4d4d4d" textLength="16.1" lengthAdjust="spacingAndGlyphs">&#8722;30</text><text x="120.4" y="417.8" font-size="10.4" text-anchor="end" fill="#4d4d4d" textLength="16.1" lengthAdjust="spacingAndGlyphs">&#8722;40</text><line x1="141.70" y1="413.3" x2="141.70" y2="415.3" stroke="#999" stroke-width="0.9"/><line x1="156.78" y1="413.3" x2="156.78" y2="415.3" stroke="#999" stroke-width="0.9"/><line x1="171.86" y1="413.3" x2="171.86" y2="415.3" stroke="#999" stroke-width="0.9"/><line x1="186.94" y1="413.3" x2="186.94" y2="415.3" stroke="#999" stroke-width="0.9"/><line x1="202.02" y1="413.3" x2="202.02" y2="415.3" stroke="#999" stroke-width="0.9"/><line x1="217.10" y1="413.3" x2="217.10" y2="415.3" stroke="#999" stroke-width="0.9"/><line x1="232.18" y1="413.3" x2="232.18" y2="415.3" stroke="#999" stroke-width="0.9"/><line x1="247.26" y1="413.3" x2="247.26" y2="415.3" stroke="#999" stroke-width="0.9"/><line x1="262.34" y1="413.3" x2="262.34" y2="415.3" stroke="#999" stroke-width="0.9"/><line x1="277.42" y1="413.3" x2="277.42" y2="415.3" stroke="#999" stroke-width="0.9"/><text x="139.1" y="427.0" font-size="10.4" text-anchor="middle" fill="#4d4d4d" textLength="18.8" lengthAdjust="spacingAndGlyphs">&#8722;0.1</text><text x="171.8" y="427.0" font-size="10.4" text-anchor="middle" fill="#4d4d4d" textLength="13.2" lengthAdjust="spacingAndGlyphs">0.0</text><text x="202.0" y="427.0" font-size="10.4" text-anchor="middle" fill="#4d4d4d" textLength="13.2" lengthAdjust="spacingAndGlyphs">0.1</text><text x="232.1" y="427.0" font-size="10.4" text-anchor="middle" fill="#4d4d4d" textLength="13.2" lengthAdjust="spacingAndGlyphs">0.2</text><text x="262.3" y="427.0" font-size="10.4" text-anchor="middle" fill="#4d4d4d" textLength="13.2" lengthAdjust="spacingAndGlyphs">0.3</text><text x="194.3" y="442.2" font-size="10.3" fill="#4d4d4d"><tspan font-style="italic">V</tspan><tspan font-size="7.4" dy="2.4">b</tspan><tspan dy="-2.4"> (V)</tspan></text><text transform="translate(94.6 346.0) rotate(-90)" font-size="10.3" fill="#4d4d4d"><tspan font-style="italic">V</tspan><tspan font-size="7.4" dy="2.4">g</tspan><tspan dy="-2.4"> (V)</tspan></text><path d="M131.20 413.00 L137.90 344.50 L146.10 286.40 L148.20 274.80 L211.00 274.80 L243.50 340.00 L277.90 413.00" fill="none" stroke="#1a1a1a" stroke-width="1.45" stroke-linejoin="round"/><path d="M204.80 274.80 L208.30 284.60 L210.70 293.50 L211.90 300.60 L212.80 311.30 L214.60 320.20 L216.40 340.00 L218.70 352.50 L220.50 375.60 L222.60 397.00 L223.90 413.00" fill="none" stroke="#1a1a1a" stroke-width="1.45" stroke-linejoin="round"/><text x="176.2" y="336.4" font-size="9.2" text-anchor="middle" fill="#4d4d4d">L</text><text x="226.6" y="336.4" font-size="9.2" text-anchor="middle" fill="#4d4d4d">R</text><text x="176.3" y="360.5" font-size="9.6" text-anchor="middle" fill="#4d4d4d" textLength="15.6" lengthAdjust="spacingAndGlyphs">v&#8722;v</text><text x="239.7" y="363.3" font-size="9.6" text-anchor="middle" fill="#4d4d4d" textLength="15.6" lengthAdjust="spacingAndGlyphs">v&#8722;v</text><text x="239.0" y="376.2" font-size="9.6" text-anchor="middle" fill="#4d4d4d" textLength="33.8" lengthAdjust="spacingAndGlyphs">and v&#8722;c</text><g transform="translate(168.3 405.9)"><path d="M2.30 -7.60L0.00 -3.15L2.30 1.30" fill="none" stroke="#4d4d4d" stroke-width="0.85"/><text x="3.40" y="0" font-size="10.30" font-style="italic" fill="#4d4d4d" textLength="6.10" lengthAdjust="spacingAndGlyphs">G</text><path d="M10.10 -7.60L12.40 -3.15L10.10 1.30" fill="none" stroke="#4d4d4d" stroke-width="0.85"/><text x="13.50" y="2.90" font-size="6.70" fill="#4d4d4d" textLength="3.10" lengthAdjust="spacingAndGlyphs">L</text></g><g transform="translate(239.1 405.9)"><path d="M2.30 -7.60L0.00 -3.15L2.30 1.30" fill="none" stroke="#4d4d4d" stroke-width="0.85"/><text x="3.40" y="0" font-size="10.30" font-style="italic" fill="#4d4d4d" textLength="6.10" lengthAdjust="spacingAndGlyphs">G</text><path d="M10.10 -7.60L12.40 -3.15L10.10 1.30" fill="none" stroke="#4d4d4d" stroke-width="0.85"/><text x="13.50" y="2.90" font-size="6.70" fill="#4d4d4d" textLength="3.60" lengthAdjust="spacingAndGlyphs">R</text></g><text x="314" y="255.6" font-size="11.5" font-weight="bold" fill="#111">e</text><path d="M364.0 249.4H650.1V412.8H364.0Z" fill="none" stroke="#a8a8a8" stroke-width="1"/><line x1="359.8" y1="412.60" x2="364.0" y2="412.60" stroke="#999" stroke-width="0.9"/><line x1="359.8" y1="389.35" x2="364.0" y2="389.35" stroke="#999" stroke-width="0.9"/><line x1="359.8" y1="366.10" x2="364.0" y2="366.10" stroke="#999" stroke-width="0.9"/><line x1="359.8" y1="342.85" x2="364.0" y2="342.85" stroke="#999" stroke-width="0.9"/><line x1="359.8" y1="319.60" x2="364.0" y2="319.60" stroke="#999" stroke-width="0.9"/><line x1="359.8" y1="296.35" x2="364.0" y2="296.35" stroke="#999" stroke-width="0.9"/><line x1="359.8" y1="273.10" x2="364.0" y2="273.10" stroke="#999" stroke-width="0.9"/><line x1="359.8" y1="249.85" x2="364.0" y2="249.85" stroke="#999" stroke-width="0.9"/><text x="355.0" y="416.0" font-size="10.4" text-anchor="end" fill="#4d4d4d" textLength="13.2" lengthAdjust="spacingAndGlyphs">1.0</text><text x="355.0" y="369.5" font-size="10.4" text-anchor="end" fill="#4d4d4d" textLength="13.2" lengthAdjust="spacingAndGlyphs">1.2</text><text x="355.0" y="323.0" font-size="10.4" text-anchor="end" fill="#4d4d4d" textLength="13.2" lengthAdjust="spacingAndGlyphs">1.4</text><text x="355.0" y="276.5" font-size="10.4" text-anchor="end" fill="#4d4d4d" textLength="13.2" lengthAdjust="spacingAndGlyphs">1.6</text><line x1="459.2" y1="412.8" x2="459.2" y2="415.8" stroke="#999" stroke-width="0.9"/><line x1="554.7" y1="412.8" x2="554.7" y2="415.8" stroke="#999" stroke-width="0.9"/><rect x="376.45" y="277.75" width="23.25" height="134.55" fill="#ef5657"/><rect x="399.70" y="271.94" width="24.10" height="140.36" fill="#fecf1e"/><rect x="423.80" y="324.02" width="23.75" height="88.28" fill="#8bc6ea"/><text x="411.1" y="424.6" font-size="10.4" text-anchor="middle" fill="#4d4d4d" textLength="5.3" lengthAdjust="spacingAndGlyphs">0</text><rect x="471.65" y="299.14" width="23.25" height="113.16" fill="#ef5657"/><rect x="494.90" y="298.21" width="24.10" height="114.09" fill="#fecf1e"/><rect x="519.00" y="375.40" width="23.75" height="36.90" fill="#8bc6ea"/><text x="506.3" y="424.6" font-size="10.4" text-anchor="middle" fill="#4d4d4d" textLength="5.3" lengthAdjust="spacingAndGlyphs">2</text><rect x="566.85" y="291.70" width="23.25" height="120.60" fill="#ef5657"/><rect x="590.10" y="291.70" width="24.10" height="120.60" fill="#fecf1e"/><rect x="614.20" y="392.37" width="23.75" height="19.93" fill="#8bc6ea"/><text x="601.5" y="424.6" font-size="10.4" text-anchor="middle" fill="#4d4d4d" textLength="5.3" lengthAdjust="spacingAndGlyphs">4</text><text x="496.5" y="440.6" font-size="10" fill="#4d4d4d" textLength="21" lengthAdjust="spacingAndGlyphs"><tspan font-style="italic">B</tspan> (T)</text><text transform="translate(391.1 408.0) rotate(-90)" font-size="10" fill="#333" textLength="47.8" lengthAdjust="spacingAndGlyphs">Experiment</text><text transform="translate(415.0 408.0) rotate(-90)" font-size="10" fill="#333" textLength="24.3" lengthAdjust="spacingAndGlyphs">Chiral</text><text transform="translate(438.9 408.0) rotate(-90)" font-size="10" fill="#333" textLength="44.0" lengthAdjust="spacingAndGlyphs">Non-chiral</text><g transform="translate(332.4 351.1) rotate(-90)"><path d="M2.67 -6.84L0.60 -2.83L2.67 1.17" fill="none" stroke="#4d4d4d" stroke-width="0.77"/><text x="3.90" y="0" font-size="9.60" font-style="italic" fill="#4d4d4d" textLength="6.40" lengthAdjust="spacingAndGlyphs">G</text><path d="M11.60 -6.84L13.67 -2.83L11.60 1.17" fill="none" stroke="#4d4d4d" stroke-width="0.77"/><text x="14.20" y="2.60" font-size="6.4" fill="#4d4d4d" textLength="2.60" lengthAdjust="spacingAndGlyphs">L</text><text x="17.4" y="0.6" font-size="10.4" fill="#4d4d4d" textLength="4.6" lengthAdjust="spacingAndGlyphs">/</text><path d="M24.87 -6.84L22.80 -2.83L24.87 1.17" fill="none" stroke="#4d4d4d" stroke-width="0.77"/><text x="25.30" y="0" font-size="9.60" font-style="italic" fill="#4d4d4d" textLength="6.40" lengthAdjust="spacingAndGlyphs">G</text><path d="M32.80 -6.84L34.87 -2.83L32.80 1.17" fill="none" stroke="#4d4d4d" stroke-width="0.77"/><text x="35.50" y="2.60" font-size="6.4" fill="#4d4d4d" textLength="3.50" lengthAdjust="spacingAndGlyphs">R</text></g></svg></body></html>
